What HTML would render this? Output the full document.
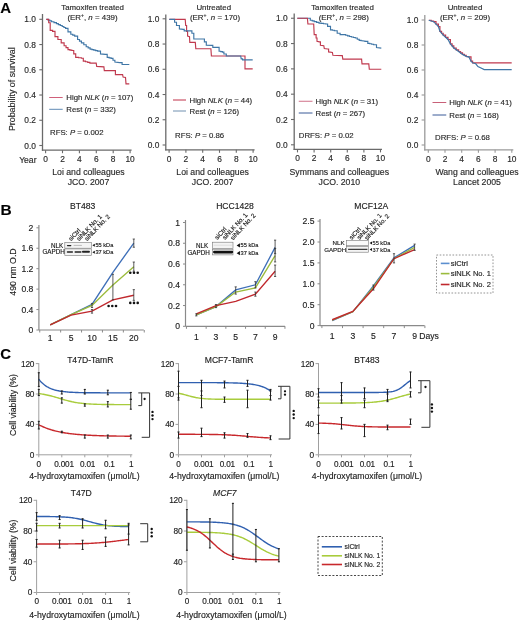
<!DOCTYPE html><html><head><meta charset="utf-8"><style>html,body{margin:0;padding:0;background:#fff;}svg{display:block;filter:blur(0.25px);} text{stroke:#2a2a2a;stroke-width:0.15px;}</style></head><body><svg width="520" height="620" viewBox="0 0 520 620" font-family='"Liberation Sans", sans-serif'>
<rect width="520" height="620" fill="#fff"/>
<text x="0.30" y="13.07" font-size="15" text-anchor="start" font-weight="bold" font-style="normal" fill="#000">A</text>
<text x="12.00" y="92.39" font-size="8.9" text-anchor="middle" font-weight="normal" font-style="normal" fill="#2a2a2a" transform="rotate(-90 12.00 89.20)">Probability of survival</text>
<line x1="42.50" y1="14.00" x2="42.50" y2="150.80" stroke="#6a6a6a" stroke-width="1.3"/>
<line x1="39.30" y1="145.50" x2="42.50" y2="145.50" stroke="#6a6a6a" stroke-width="1.1"/>
<text x="36.00" y="148.51" font-size="8.4" text-anchor="end" font-weight="normal" font-style="normal" fill="#2a2a2a">0.0</text>
<line x1="39.30" y1="120.26" x2="42.50" y2="120.26" stroke="#6a6a6a" stroke-width="1.1"/>
<text x="36.00" y="123.27" font-size="8.4" text-anchor="end" font-weight="normal" font-style="normal" fill="#2a2a2a">0.2</text>
<line x1="39.30" y1="95.02" x2="42.50" y2="95.02" stroke="#6a6a6a" stroke-width="1.1"/>
<text x="36.00" y="98.03" font-size="8.4" text-anchor="end" font-weight="normal" font-style="normal" fill="#2a2a2a">0.4</text>
<line x1="39.30" y1="69.78" x2="42.50" y2="69.78" stroke="#6a6a6a" stroke-width="1.1"/>
<text x="36.00" y="72.79" font-size="8.4" text-anchor="end" font-weight="normal" font-style="normal" fill="#2a2a2a">0.6</text>
<line x1="39.30" y1="44.54" x2="42.50" y2="44.54" stroke="#6a6a6a" stroke-width="1.1"/>
<text x="36.00" y="47.55" font-size="8.4" text-anchor="end" font-weight="normal" font-style="normal" fill="#2a2a2a">0.8</text>
<line x1="39.30" y1="19.30" x2="42.50" y2="19.30" stroke="#6a6a6a" stroke-width="1.1"/>
<text x="36.00" y="22.31" font-size="8.4" text-anchor="end" font-weight="normal" font-style="normal" fill="#2a2a2a">1.0</text>
<line x1="41.90" y1="150.20" x2="131.60" y2="150.20" stroke="#6a6a6a" stroke-width="1.3"/>
<line x1="45.60" y1="150.20" x2="45.60" y2="153.20" stroke="#6a6a6a" stroke-width="1.1"/>
<text x="45.60" y="162.21" font-size="8.4" text-anchor="middle" font-weight="normal" font-style="normal" fill="#2a2a2a">0</text>
<line x1="62.50" y1="150.20" x2="62.50" y2="153.20" stroke="#6a6a6a" stroke-width="1.1"/>
<text x="62.50" y="162.21" font-size="8.4" text-anchor="middle" font-weight="normal" font-style="normal" fill="#2a2a2a">2</text>
<line x1="79.40" y1="150.20" x2="79.40" y2="153.20" stroke="#6a6a6a" stroke-width="1.1"/>
<text x="79.40" y="162.21" font-size="8.4" text-anchor="middle" font-weight="normal" font-style="normal" fill="#2a2a2a">4</text>
<line x1="96.30" y1="150.20" x2="96.30" y2="153.20" stroke="#6a6a6a" stroke-width="1.1"/>
<text x="96.30" y="162.21" font-size="8.4" text-anchor="middle" font-weight="normal" font-style="normal" fill="#2a2a2a">6</text>
<line x1="113.20" y1="150.20" x2="113.20" y2="153.20" stroke="#6a6a6a" stroke-width="1.1"/>
<text x="113.20" y="162.21" font-size="8.4" text-anchor="middle" font-weight="normal" font-style="normal" fill="#2a2a2a">8</text>
<line x1="130.10" y1="150.20" x2="130.10" y2="153.20" stroke="#6a6a6a" stroke-width="1.1"/>
<text x="130.10" y="162.21" font-size="8.4" text-anchor="middle" font-weight="normal" font-style="normal" fill="#2a2a2a">10</text>
<text x="36.50" y="162.68" font-size="8.6" text-anchor="end" font-weight="normal" font-style="normal" fill="#2a2a2a">Year</text>
<text x="92.60" y="9.73" font-size="7.9" text-anchor="middle" font-weight="normal" font-style="normal" fill="#2a2a2a">Tamoxifen treated</text>
<text x="92.50" y="19.73" font-size="7.9" text-anchor="middle" fill="#2a2a2a">(ER<tspan font-size="5" dy="-3">+</tspan><tspan dy="3">, </tspan><tspan font-style="italic">n</tspan> = 439)</text>
<line x1="49.20" y1="97.50" x2="62.70" y2="97.50" stroke="#d0607a" stroke-width="1.0"/>
<line x1="49.20" y1="109.30" x2="62.70" y2="109.30" stroke="#5f8ab5" stroke-width="1.0"/>
<text x="66.30" y="100.29" font-size="7.8" fill="#2a2a2a">High <tspan font-style="italic">NLK</tspan> (<tspan font-style="italic">n</tspan> = 107)</text>
<text x="66.30" y="112.09" font-size="7.8" fill="#2a2a2a">Rest (<tspan font-style="italic">n</tspan> = 332)</text>
<text x="50.00" y="134.79" font-size="7.8" fill="#2a2a2a">RFS: <tspan font-style="italic">P</tspan> = 0.002</text>
<text x="88.50" y="174.81" font-size="8.7" text-anchor="middle" font-weight="normal" font-style="normal" fill="#2a2a2a">Loi and colleagues</text>
<text x="88.50" y="185.11" font-size="8.7" text-anchor="middle" font-weight="normal" font-style="normal" fill="#2a2a2a">JCO. 2007</text>
<polyline points="46.30,19.30 48.07,19.30 48.07,20.10 49.83,20.10 49.83,20.90 51.60,20.90 51.60,21.70 54.00,21.70 54.00,22.65 56.40,22.65 56.40,23.60 58.33,23.60 58.33,24.57 60.27,24.57 60.27,25.53 62.20,25.53 62.20,26.50 63.90,26.50 63.90,27.45 65.60,27.45 65.60,28.40 68.00,28.40 68.00,31.80 70.80,31.80 70.80,34.20 72.75,34.20 72.75,35.15 74.70,35.15 74.70,36.10 77.60,36.10 77.60,39.50 79.50,39.50 79.50,41.15 81.40,41.15 81.40,42.80 83.80,42.80 83.80,44.75 86.20,44.75 86.20,46.70 88.15,46.70 88.15,47.90 90.10,47.90 90.10,49.10 91.95,49.10 91.95,49.60 93.80,49.60 93.80,50.10 95.70,50.10 95.70,50.60 97.60,50.60 97.60,51.10 100.50,51.10 100.50,53.90 105.30,54.40 107.20,54.40 107.20,57.30 109.15,57.30 109.15,57.80 111.10,57.80 111.10,58.30 113.00,58.30 113.00,60.20 114.90,60.20 114.90,62.10 119.70,62.60 122.10,62.60 122.10,64.50 129.30,64.50" fill="none" stroke="#3f76a6" stroke-width="1.15" stroke-linejoin="miter" />
<polyline points="46.30,19.30 48.70,19.30 48.70,22.70 50.20,22.70 50.20,30.30 52.60,30.30 52.60,31.30 55.00,31.30 55.00,36.60 57.90,36.60 57.90,39.50 61.20,39.50 61.20,42.80 64.10,42.80 64.10,45.70 66.05,45.70 66.05,47.65 68.00,47.65 68.00,49.60 69.90,49.60 69.90,50.05 71.80,50.05 71.80,50.50 73.75,50.50 73.75,53.90 75.70,53.90 75.70,57.30 78.55,57.30 78.55,57.75 81.40,57.75 81.40,58.20 83.30,58.20 83.30,61.10 85.50,61.10 85.50,61.77 87.70,61.77 87.70,62.43 89.90,62.43 89.90,63.10 96.20,63.10 96.70,66.40 103.90,66.90 104.30,70.60 114.00,70.60 115.40,70.60 115.40,74.60 122.60,74.60 123.10,77.00 125.50,77.50 126.00,83.80 129.30,83.80" fill="none" stroke="#c0394e" stroke-width="1.15" stroke-linejoin="miter" />
<line x1="165.80" y1="14.50" x2="165.80" y2="150.40" stroke="#6a6a6a" stroke-width="1.3"/>
<line x1="162.60" y1="145.00" x2="165.80" y2="145.00" stroke="#6a6a6a" stroke-width="1.1"/>
<text x="159.30" y="148.01" font-size="8.4" text-anchor="end" font-weight="normal" font-style="normal" fill="#2a2a2a">0.0</text>
<line x1="162.60" y1="119.76" x2="165.80" y2="119.76" stroke="#6a6a6a" stroke-width="1.1"/>
<text x="159.30" y="122.77" font-size="8.4" text-anchor="end" font-weight="normal" font-style="normal" fill="#2a2a2a">0.2</text>
<line x1="162.60" y1="94.52" x2="165.80" y2="94.52" stroke="#6a6a6a" stroke-width="1.1"/>
<text x="159.30" y="97.53" font-size="8.4" text-anchor="end" font-weight="normal" font-style="normal" fill="#2a2a2a">0.4</text>
<line x1="162.60" y1="69.28" x2="165.80" y2="69.28" stroke="#6a6a6a" stroke-width="1.1"/>
<text x="159.30" y="72.29" font-size="8.4" text-anchor="end" font-weight="normal" font-style="normal" fill="#2a2a2a">0.6</text>
<line x1="162.60" y1="44.04" x2="165.80" y2="44.04" stroke="#6a6a6a" stroke-width="1.1"/>
<text x="159.30" y="47.05" font-size="8.4" text-anchor="end" font-weight="normal" font-style="normal" fill="#2a2a2a">0.8</text>
<line x1="162.60" y1="18.80" x2="165.80" y2="18.80" stroke="#6a6a6a" stroke-width="1.1"/>
<text x="159.30" y="21.81" font-size="8.4" text-anchor="end" font-weight="normal" font-style="normal" fill="#2a2a2a">1.0</text>
<line x1="165.20" y1="149.80" x2="254.60" y2="149.80" stroke="#6a6a6a" stroke-width="1.3"/>
<line x1="169.10" y1="149.80" x2="169.10" y2="152.80" stroke="#6a6a6a" stroke-width="1.1"/>
<text x="169.10" y="161.81" font-size="8.4" text-anchor="middle" font-weight="normal" font-style="normal" fill="#2a2a2a">0</text>
<line x1="185.90" y1="149.80" x2="185.90" y2="152.80" stroke="#6a6a6a" stroke-width="1.1"/>
<text x="185.90" y="161.81" font-size="8.4" text-anchor="middle" font-weight="normal" font-style="normal" fill="#2a2a2a">2</text>
<line x1="202.70" y1="149.80" x2="202.70" y2="152.80" stroke="#6a6a6a" stroke-width="1.1"/>
<text x="202.70" y="161.81" font-size="8.4" text-anchor="middle" font-weight="normal" font-style="normal" fill="#2a2a2a">4</text>
<line x1="219.50" y1="149.80" x2="219.50" y2="152.80" stroke="#6a6a6a" stroke-width="1.1"/>
<text x="219.50" y="161.81" font-size="8.4" text-anchor="middle" font-weight="normal" font-style="normal" fill="#2a2a2a">6</text>
<line x1="236.30" y1="149.80" x2="236.30" y2="152.80" stroke="#6a6a6a" stroke-width="1.1"/>
<text x="236.30" y="161.81" font-size="8.4" text-anchor="middle" font-weight="normal" font-style="normal" fill="#2a2a2a">8</text>
<line x1="253.10" y1="149.80" x2="253.10" y2="152.80" stroke="#6a6a6a" stroke-width="1.1"/>
<text x="253.10" y="161.81" font-size="8.4" text-anchor="middle" font-weight="normal" font-style="normal" fill="#2a2a2a">10</text>
<text x="213.75" y="10.13" font-size="7.9" text-anchor="middle" font-weight="normal" font-style="normal" fill="#2a2a2a">Untreated</text>
<text x="215.00" y="19.73" font-size="7.9" text-anchor="middle" fill="#2a2a2a">(ER<tspan font-size="5" dy="-3">+</tspan><tspan dy="3">, </tspan><tspan font-style="italic">n</tspan> = 170)</text>
<line x1="173.00" y1="100.00" x2="186.00" y2="100.00" stroke="#c03048" stroke-width="1.0"/>
<line x1="173.00" y1="111.00" x2="186.00" y2="111.00" stroke="#7090b0" stroke-width="1.0"/>
<text x="189.50" y="102.79" font-size="7.8" fill="#2a2a2a">High <tspan font-style="italic">NLK</tspan> (<tspan font-style="italic">n</tspan> = 44)</text>
<text x="189.50" y="113.79" font-size="7.8" fill="#2a2a2a">Rest (<tspan font-style="italic">n</tspan> = 126)</text>
<text x="175.00" y="138.29" font-size="7.8" fill="#2a2a2a">RFS: <tspan font-style="italic">P</tspan> = 0.86</text>
<text x="212.60" y="175.11" font-size="8.7" text-anchor="middle" font-weight="normal" font-style="normal" fill="#2a2a2a">Loi and colleagues</text>
<text x="212.60" y="185.11" font-size="8.7" text-anchor="middle" font-weight="normal" font-style="normal" fill="#2a2a2a">JCO. 2007</text>
<polyline points="169.30,19.30 185.20,19.30 185.70,25.50 186.60,25.50 186.60,31.30 187.60,31.30 187.60,36.10 189.50,36.60 189.80,42.40 195.30,42.40 195.80,48.60 210.90,48.75 211.40,56.00 245.00,56.00 245.00,68.90 252.70,68.90" fill="none" stroke="#c0394e" stroke-width="1.15" stroke-linejoin="miter" />
<polyline points="169.30,19.30 173.20,19.30 174.60,19.30 174.60,22.20 176.50,22.20 176.50,25.50 179.40,25.50 179.40,28.90 183.30,29.40 184.20,29.40 184.20,30.80 191.00,30.80 191.90,30.80 191.90,33.20 193.80,33.20 193.80,39.00 202.50,39.00 204.40,39.00 204.40,41.90 206.30,41.90 206.30,45.30 211.80,45.40 212.80,45.40 212.80,47.30 217.60,47.30 219.10,47.30 219.10,51.20 220.75,51.20 220.75,51.65 222.40,51.65 222.40,52.10 223.90,52.10 223.90,54.00 226.30,54.00 226.30,56.00 240.70,56.00 241.20,58.80 242.60,58.80 242.60,59.80 252.70,59.80" fill="none" stroke="#3f76a6" stroke-width="1.15" stroke-linejoin="miter" />
<line x1="294.20" y1="13.50" x2="294.20" y2="150.00" stroke="#6a6a6a" stroke-width="1.3"/>
<line x1="291.00" y1="144.80" x2="294.20" y2="144.80" stroke="#6a6a6a" stroke-width="1.1"/>
<text x="287.70" y="147.81" font-size="8.4" text-anchor="end" font-weight="normal" font-style="normal" fill="#2a2a2a">0.0</text>
<line x1="291.00" y1="119.49" x2="294.20" y2="119.49" stroke="#6a6a6a" stroke-width="1.1"/>
<text x="287.70" y="122.50" font-size="8.4" text-anchor="end" font-weight="normal" font-style="normal" fill="#2a2a2a">0.2</text>
<line x1="291.00" y1="94.18" x2="294.20" y2="94.18" stroke="#6a6a6a" stroke-width="1.1"/>
<text x="287.70" y="97.19" font-size="8.4" text-anchor="end" font-weight="normal" font-style="normal" fill="#2a2a2a">0.4</text>
<line x1="291.00" y1="68.87" x2="294.20" y2="68.87" stroke="#6a6a6a" stroke-width="1.1"/>
<text x="287.70" y="71.88" font-size="8.4" text-anchor="end" font-weight="normal" font-style="normal" fill="#2a2a2a">0.6</text>
<line x1="291.00" y1="43.56" x2="294.20" y2="43.56" stroke="#6a6a6a" stroke-width="1.1"/>
<text x="287.70" y="46.57" font-size="8.4" text-anchor="end" font-weight="normal" font-style="normal" fill="#2a2a2a">0.8</text>
<line x1="291.00" y1="18.25" x2="294.20" y2="18.25" stroke="#6a6a6a" stroke-width="1.1"/>
<text x="287.70" y="21.26" font-size="8.4" text-anchor="end" font-weight="normal" font-style="normal" fill="#2a2a2a">1.0</text>
<line x1="293.60" y1="149.40" x2="382.00" y2="149.40" stroke="#6a6a6a" stroke-width="1.3"/>
<line x1="297.50" y1="149.40" x2="297.50" y2="152.40" stroke="#6a6a6a" stroke-width="1.1"/>
<text x="297.50" y="161.41" font-size="8.4" text-anchor="middle" font-weight="normal" font-style="normal" fill="#2a2a2a">0</text>
<line x1="314.10" y1="149.40" x2="314.10" y2="152.40" stroke="#6a6a6a" stroke-width="1.1"/>
<text x="314.10" y="161.41" font-size="8.4" text-anchor="middle" font-weight="normal" font-style="normal" fill="#2a2a2a">2</text>
<line x1="330.70" y1="149.40" x2="330.70" y2="152.40" stroke="#6a6a6a" stroke-width="1.1"/>
<text x="330.70" y="161.41" font-size="8.4" text-anchor="middle" font-weight="normal" font-style="normal" fill="#2a2a2a">4</text>
<line x1="347.30" y1="149.40" x2="347.30" y2="152.40" stroke="#6a6a6a" stroke-width="1.1"/>
<text x="347.30" y="161.41" font-size="8.4" text-anchor="middle" font-weight="normal" font-style="normal" fill="#2a2a2a">6</text>
<line x1="363.90" y1="149.40" x2="363.90" y2="152.40" stroke="#6a6a6a" stroke-width="1.1"/>
<text x="363.90" y="161.41" font-size="8.4" text-anchor="middle" font-weight="normal" font-style="normal" fill="#2a2a2a">8</text>
<line x1="380.50" y1="149.40" x2="380.50" y2="152.40" stroke="#6a6a6a" stroke-width="1.1"/>
<text x="380.50" y="161.41" font-size="8.4" text-anchor="middle" font-weight="normal" font-style="normal" fill="#2a2a2a">10</text>
<text x="342.50" y="10.13" font-size="7.9" text-anchor="middle" font-weight="normal" font-style="normal" fill="#2a2a2a">Tamoxifen treated</text>
<text x="343.75" y="19.73" font-size="7.9" text-anchor="middle" fill="#2a2a2a">(ER<tspan font-size="5" dy="-3">+</tspan><tspan dy="3">, </tspan><tspan font-style="italic">n</tspan> = 298)</text>
<line x1="298.75" y1="101.25" x2="312.50" y2="101.25" stroke="#d07088" stroke-width="1.0"/>
<line x1="298.75" y1="113.00" x2="312.50" y2="113.00" stroke="#3a5a98" stroke-width="1.0"/>
<text x="315.50" y="104.04" font-size="7.8" fill="#2a2a2a">High <tspan font-style="italic">NLK</tspan> (<tspan font-style="italic">n</tspan> = 31)</text>
<text x="315.50" y="115.79" font-size="7.8" fill="#2a2a2a">Rest (<tspan font-style="italic">n</tspan> = 267)</text>
<text x="298.75" y="138.29" font-size="7.8" fill="#2a2a2a">DRFS: <tspan font-style="italic">P</tspan> = 0.02</text>
<text x="339.30" y="174.81" font-size="8.7" text-anchor="middle" font-weight="normal" font-style="normal" fill="#2a2a2a">Symmans and colleagues</text>
<text x="339.30" y="185.01" font-size="8.7" text-anchor="middle" font-weight="normal" font-style="normal" fill="#2a2a2a">JCO. 2010</text>
<polyline points="297.30,18.25 307.40,18.25 310.30,18.25 310.30,20.20 312.25,20.20 312.25,20.90 314.20,20.90 314.20,21.60 316.60,21.60 316.60,22.35 319.00,22.35 319.00,23.10 321.23,23.10 321.23,23.40 323.47,23.40 323.47,23.70 325.70,23.70 325.70,24.00 327.60,24.00 327.60,26.40 330.50,26.40 330.50,29.80 332.40,29.80 332.40,30.27 334.30,30.27 334.30,30.75 337.20,30.75 337.20,33.20 340.10,33.20 340.10,34.60 343.80,34.60 345.70,34.60 345.70,35.23 347.60,35.23 347.60,35.87 349.50,35.87 349.50,36.50 351.43,36.50 351.43,37.00 353.37,37.00 353.37,37.50 355.30,37.50 355.30,38.00 357.25,38.00 357.25,39.20 359.20,39.20 359.20,40.40 361.10,40.40 361.10,40.70 363.00,40.70 363.00,41.00 364.90,41.00 364.90,41.30 367.80,41.30 367.80,43.30 369.73,43.30 369.73,43.77 371.67,43.77 371.67,44.23 373.60,44.23 373.60,44.70 376.50,44.70 376.50,47.60 381.30,48.10" fill="none" stroke="#3f76a6" stroke-width="1.15" stroke-linejoin="miter" />
<polyline points="297.30,18.25 307.40,18.25 307.90,24.00 313.70,24.00 314.20,34.60 316.10,34.60 316.10,38.00 317.00,38.00 317.00,41.30 319.40,41.80 320.40,41.80 320.40,45.20 323.80,45.70 324.30,48.50 327.60,49.00 328.60,49.00 328.60,51.90 332.40,52.40 332.90,55.30 342.30,55.60 342.80,59.10 361.60,59.10 362.00,63.90 368.80,63.90 369.30,69.20 381.30,69.20" fill="none" stroke="#c0394e" stroke-width="1.15" stroke-linejoin="miter" />
<line x1="424.80" y1="15.00" x2="424.80" y2="150.40" stroke="#9a9a9a" stroke-width="1.3"/>
<line x1="421.60" y1="145.00" x2="424.80" y2="145.00" stroke="#9a9a9a" stroke-width="1.1"/>
<text x="418.30" y="148.01" font-size="8.4" text-anchor="end" font-weight="normal" font-style="normal" fill="#2a2a2a">0.0</text>
<line x1="421.60" y1="120.00" x2="424.80" y2="120.00" stroke="#9a9a9a" stroke-width="1.1"/>
<text x="418.30" y="123.01" font-size="8.4" text-anchor="end" font-weight="normal" font-style="normal" fill="#2a2a2a">0.2</text>
<line x1="421.60" y1="95.00" x2="424.80" y2="95.00" stroke="#9a9a9a" stroke-width="1.1"/>
<text x="418.30" y="98.01" font-size="8.4" text-anchor="end" font-weight="normal" font-style="normal" fill="#2a2a2a">0.4</text>
<line x1="421.60" y1="70.00" x2="424.80" y2="70.00" stroke="#9a9a9a" stroke-width="1.1"/>
<text x="418.30" y="73.01" font-size="8.4" text-anchor="end" font-weight="normal" font-style="normal" fill="#2a2a2a">0.6</text>
<line x1="421.60" y1="45.00" x2="424.80" y2="45.00" stroke="#9a9a9a" stroke-width="1.1"/>
<text x="418.30" y="48.01" font-size="8.4" text-anchor="end" font-weight="normal" font-style="normal" fill="#2a2a2a">0.8</text>
<line x1="421.60" y1="20.00" x2="424.80" y2="20.00" stroke="#9a9a9a" stroke-width="1.1"/>
<text x="418.30" y="23.01" font-size="8.4" text-anchor="end" font-weight="normal" font-style="normal" fill="#2a2a2a">1.0</text>
<line x1="424.20" y1="149.80" x2="513.30" y2="149.80" stroke="#9a9a9a" stroke-width="1.3"/>
<line x1="428.30" y1="149.80" x2="428.30" y2="152.80" stroke="#9a9a9a" stroke-width="1.1"/>
<text x="428.30" y="161.81" font-size="8.4" text-anchor="middle" font-weight="normal" font-style="normal" fill="#2a2a2a">0</text>
<line x1="445.00" y1="149.80" x2="445.00" y2="152.80" stroke="#9a9a9a" stroke-width="1.1"/>
<text x="445.00" y="161.81" font-size="8.4" text-anchor="middle" font-weight="normal" font-style="normal" fill="#2a2a2a">2</text>
<line x1="461.70" y1="149.80" x2="461.70" y2="152.80" stroke="#9a9a9a" stroke-width="1.1"/>
<text x="461.70" y="161.81" font-size="8.4" text-anchor="middle" font-weight="normal" font-style="normal" fill="#2a2a2a">4</text>
<line x1="478.40" y1="149.80" x2="478.40" y2="152.80" stroke="#9a9a9a" stroke-width="1.1"/>
<text x="478.40" y="161.81" font-size="8.4" text-anchor="middle" font-weight="normal" font-style="normal" fill="#2a2a2a">6</text>
<line x1="495.10" y1="149.80" x2="495.10" y2="152.80" stroke="#9a9a9a" stroke-width="1.1"/>
<text x="495.10" y="161.81" font-size="8.4" text-anchor="middle" font-weight="normal" font-style="normal" fill="#2a2a2a">8</text>
<line x1="511.80" y1="149.80" x2="511.80" y2="152.80" stroke="#9a9a9a" stroke-width="1.1"/>
<text x="511.80" y="161.81" font-size="8.4" text-anchor="middle" font-weight="normal" font-style="normal" fill="#2a2a2a">10</text>
<text x="465.00" y="10.13" font-size="7.9" text-anchor="middle" font-weight="normal" font-style="normal" fill="#2a2a2a">Untreated</text>
<text x="465.00" y="19.73" font-size="7.9" text-anchor="middle" fill="#2a2a2a">(ER<tspan font-size="5" dy="-3">+</tspan><tspan dy="3">, </tspan><tspan font-style="italic">n</tspan> = 209)</text>
<line x1="432.50" y1="102.50" x2="446.25" y2="102.50" stroke="#c86078" stroke-width="1.0"/>
<line x1="432.50" y1="115.00" x2="446.25" y2="115.00" stroke="#3a5a98" stroke-width="1.0"/>
<text x="449.25" y="105.29" font-size="7.8" fill="#2a2a2a">High <tspan font-style="italic">NLK</tspan> (<tspan font-style="italic">n</tspan> = 41)</text>
<text x="449.25" y="117.79" font-size="7.8" fill="#2a2a2a">Rest (<tspan font-style="italic">n</tspan> = 168)</text>
<text x="435.00" y="139.79" font-size="7.8" fill="#2a2a2a">DRFS: <tspan font-style="italic">P</tspan> = 0.68</text>
<text x="477.00" y="174.71" font-size="8.7" text-anchor="middle" font-weight="normal" font-style="normal" fill="#2a2a2a">Wang and colleagues</text>
<text x="477.00" y="184.61" font-size="8.7" text-anchor="middle" font-weight="normal" font-style="normal" fill="#2a2a2a">Lancet 2005</text>
<polyline points="428.80,20.25 431.20,20.25 431.20,20.98 433.60,20.98 433.60,21.70 436.00,21.70 436.00,24.10 438.40,24.10 438.40,26.50 439.90,26.50 439.90,31.30 441.55,31.30 441.55,33.25 443.20,33.25 443.20,35.20 445.60,35.20 445.60,37.35 448.00,37.35 448.00,39.50 450.40,39.50 450.40,43.80 452.10,43.80 452.10,45.95 453.80,45.95 453.80,48.10 456.20,48.10 456.20,49.80 458.60,49.80 458.60,51.50 460.55,51.50 460.55,52.95 462.50,52.95 462.50,54.40 464.35,54.40 464.35,55.40 466.20,55.40 466.20,56.40 468.90,56.90 471.00,56.90 471.00,61.20 472.60,61.20 472.60,62.80 511.70,62.80" fill="none" stroke="#c0394e" stroke-width="1.2" stroke-linejoin="miter" />
<polyline points="428.80,20.25 433.60,21.70 438.40,26.50 439.90,31.30 443.20,35.20 448.00,39.50 450.40,43.80 453.80,48.10 458.60,51.50 462.50,54.40 466.20,56.40 468.90,56.90 471.00,61.20 472.60,62.80 475.80,63.80 477.90,66.50 481.00,68.00 484.20,69.60 511.70,69.60" fill="none" stroke="#3f76a6" stroke-width="1.2" stroke-linejoin="miter" />
<text x="0.60" y="215.05" font-size="15.5" text-anchor="start" font-weight="bold" font-style="normal" fill="#000">B</text>
<text x="13.00" y="275.15" font-size="8.8" text-anchor="middle" font-weight="normal" font-style="normal" fill="#1a1a1a" transform="rotate(-90 13.00 272.00)">490 nm O.D</text>
<line x1="38.90" y1="225.00" x2="38.90" y2="330.00" stroke="#8a8a8a" stroke-width="1.2"/>
<line x1="38.90" y1="330.00" x2="143.80" y2="330.00" stroke="#8a8a8a" stroke-width="1.2"/>
<line x1="36.40" y1="330.00" x2="38.90" y2="330.00" stroke="#8a8a8a" stroke-width="1"/>
<text x="33.40" y="333.08" font-size="8.6" text-anchor="end" font-weight="normal" font-style="normal" fill="#1a1a1a">0</text>
<line x1="36.40" y1="309.56" x2="38.90" y2="309.56" stroke="#8a8a8a" stroke-width="1"/>
<text x="33.40" y="312.64" font-size="8.6" text-anchor="end" font-weight="normal" font-style="normal" fill="#1a1a1a">0.4</text>
<line x1="36.40" y1="289.12" x2="38.90" y2="289.12" stroke="#8a8a8a" stroke-width="1"/>
<text x="33.40" y="292.20" font-size="8.6" text-anchor="end" font-weight="normal" font-style="normal" fill="#1a1a1a">0.8</text>
<line x1="36.40" y1="268.68" x2="38.90" y2="268.68" stroke="#8a8a8a" stroke-width="1"/>
<text x="33.40" y="271.76" font-size="8.6" text-anchor="end" font-weight="normal" font-style="normal" fill="#1a1a1a">1.2</text>
<line x1="36.40" y1="248.24" x2="38.90" y2="248.24" stroke="#8a8a8a" stroke-width="1"/>
<text x="33.40" y="251.32" font-size="8.6" text-anchor="end" font-weight="normal" font-style="normal" fill="#1a1a1a">1.6</text>
<line x1="36.40" y1="227.80" x2="38.90" y2="227.80" stroke="#8a8a8a" stroke-width="1"/>
<text x="33.40" y="230.88" font-size="8.6" text-anchor="end" font-weight="normal" font-style="normal" fill="#1a1a1a">2</text>
<line x1="39.75" y1="330.00" x2="39.75" y2="332.50" stroke="#8a8a8a" stroke-width="1"/>
<line x1="60.65" y1="330.00" x2="60.65" y2="332.50" stroke="#8a8a8a" stroke-width="1"/>
<line x1="81.55" y1="330.00" x2="81.55" y2="332.50" stroke="#8a8a8a" stroke-width="1"/>
<line x1="102.45" y1="330.00" x2="102.45" y2="332.50" stroke="#8a8a8a" stroke-width="1"/>
<line x1="123.35" y1="330.00" x2="123.35" y2="332.50" stroke="#8a8a8a" stroke-width="1"/>
<line x1="144.25" y1="330.00" x2="144.25" y2="332.50" stroke="#8a8a8a" stroke-width="1"/>
<text x="50.20" y="341.28" font-size="8.6" text-anchor="middle" font-weight="normal" font-style="normal" fill="#1a1a1a">1</text>
<text x="71.10" y="341.28" font-size="8.6" text-anchor="middle" font-weight="normal" font-style="normal" fill="#1a1a1a">5</text>
<text x="92.00" y="341.28" font-size="8.6" text-anchor="middle" font-weight="normal" font-style="normal" fill="#1a1a1a">10</text>
<text x="112.90" y="341.28" font-size="8.6" text-anchor="middle" font-weight="normal" font-style="normal" fill="#1a1a1a">15</text>
<text x="133.80" y="341.28" font-size="8.6" text-anchor="middle" font-weight="normal" font-style="normal" fill="#1a1a1a">20</text>
<text x="82.70" y="208.88" font-size="8.6" text-anchor="middle" font-weight="normal" font-style="normal" fill="#1a1a1a">BT483</text>
<polyline points="50.20,324.89 71.10,314.67 92.00,304.45 112.90,272.26 133.80,243.13" fill="none" stroke="#3e6fb8" stroke-width="1.35" stroke-linejoin="miter" />
<polyline points="50.20,324.89 71.10,314.67 92.00,305.47 112.90,285.03 133.80,266.64" fill="none" stroke="#9bbb3c" stroke-width="1.35" stroke-linejoin="miter" />
<polyline points="50.20,324.89 71.10,315.18 92.00,311.09 112.90,299.85 133.80,295.25" fill="none" stroke="#c0282d" stroke-width="1.35" stroke-linejoin="miter" />
<line x1="133.80" y1="247.22" x2="133.80" y2="239.04" stroke="#333" stroke-width="0.8"/>
<line x1="132.70" y1="247.22" x2="134.90" y2="247.22" stroke="#333" stroke-width="0.8"/>
<line x1="132.70" y1="239.04" x2="134.90" y2="239.04" stroke="#333" stroke-width="0.8"/>
<line x1="112.90" y1="299.85" x2="112.90" y2="274.30" stroke="#333" stroke-width="0.8"/>
<line x1="111.80" y1="299.85" x2="114.00" y2="299.85" stroke="#333" stroke-width="0.8"/>
<line x1="111.80" y1="274.30" x2="114.00" y2="274.30" stroke="#333" stroke-width="0.8"/>
<line x1="133.80" y1="271.24" x2="133.80" y2="262.04" stroke="#333" stroke-width="0.8"/>
<line x1="132.70" y1="271.24" x2="134.90" y2="271.24" stroke="#333" stroke-width="0.8"/>
<line x1="132.70" y1="262.04" x2="134.90" y2="262.04" stroke="#333" stroke-width="0.8"/>
<line x1="133.80" y1="300.36" x2="133.80" y2="289.63" stroke="#333" stroke-width="0.8"/>
<line x1="132.70" y1="300.36" x2="134.90" y2="300.36" stroke="#333" stroke-width="0.8"/>
<line x1="132.70" y1="289.63" x2="134.90" y2="289.63" stroke="#333" stroke-width="0.8"/>
<line x1="92.00" y1="307.52" x2="92.00" y2="303.43" stroke="#333" stroke-width="0.8"/>
<line x1="90.90" y1="307.52" x2="93.10" y2="307.52" stroke="#333" stroke-width="0.8"/>
<line x1="90.90" y1="303.43" x2="93.10" y2="303.43" stroke="#333" stroke-width="0.8"/>
<line x1="92.00" y1="313.14" x2="92.00" y2="309.56" stroke="#333" stroke-width="0.8"/>
<line x1="90.90" y1="313.14" x2="93.10" y2="313.14" stroke="#333" stroke-width="0.8"/>
<line x1="90.90" y1="309.56" x2="93.10" y2="309.56" stroke="#333" stroke-width="0.8"/>
<line x1="185.50" y1="220.00" x2="185.50" y2="326.30" stroke="#8a8a8a" stroke-width="1.2"/>
<line x1="185.50" y1="326.30" x2="285.10" y2="326.30" stroke="#8a8a8a" stroke-width="1.2"/>
<line x1="183.00" y1="326.30" x2="185.50" y2="326.30" stroke="#8a8a8a" stroke-width="1"/>
<text x="180.00" y="329.38" font-size="8.6" text-anchor="end" font-weight="normal" font-style="normal" fill="#1a1a1a">0</text>
<line x1="183.00" y1="305.54" x2="185.50" y2="305.54" stroke="#8a8a8a" stroke-width="1"/>
<text x="180.00" y="308.62" font-size="8.6" text-anchor="end" font-weight="normal" font-style="normal" fill="#1a1a1a">0.2</text>
<line x1="183.00" y1="284.78" x2="185.50" y2="284.78" stroke="#8a8a8a" stroke-width="1"/>
<text x="180.00" y="287.86" font-size="8.6" text-anchor="end" font-weight="normal" font-style="normal" fill="#1a1a1a">0.4</text>
<line x1="183.00" y1="264.02" x2="185.50" y2="264.02" stroke="#8a8a8a" stroke-width="1"/>
<text x="180.00" y="267.10" font-size="8.6" text-anchor="end" font-weight="normal" font-style="normal" fill="#1a1a1a">0.6</text>
<line x1="183.00" y1="243.26" x2="185.50" y2="243.26" stroke="#8a8a8a" stroke-width="1"/>
<text x="180.00" y="246.34" font-size="8.6" text-anchor="end" font-weight="normal" font-style="normal" fill="#1a1a1a">0.8</text>
<line x1="183.00" y1="222.50" x2="185.50" y2="222.50" stroke="#8a8a8a" stroke-width="1"/>
<text x="180.00" y="225.58" font-size="8.6" text-anchor="end" font-weight="normal" font-style="normal" fill="#1a1a1a">1</text>
<line x1="186.45" y1="326.30" x2="186.45" y2="328.80" stroke="#8a8a8a" stroke-width="1"/>
<line x1="206.15" y1="326.30" x2="206.15" y2="328.80" stroke="#8a8a8a" stroke-width="1"/>
<line x1="225.85" y1="326.30" x2="225.85" y2="328.80" stroke="#8a8a8a" stroke-width="1"/>
<line x1="245.55" y1="326.30" x2="245.55" y2="328.80" stroke="#8a8a8a" stroke-width="1"/>
<line x1="265.25" y1="326.30" x2="265.25" y2="328.80" stroke="#8a8a8a" stroke-width="1"/>
<line x1="284.95" y1="326.30" x2="284.95" y2="328.80" stroke="#8a8a8a" stroke-width="1"/>
<text x="196.30" y="339.68" font-size="8.6" text-anchor="middle" font-weight="normal" font-style="normal" fill="#1a1a1a">1</text>
<text x="216.00" y="339.68" font-size="8.6" text-anchor="middle" font-weight="normal" font-style="normal" fill="#1a1a1a">3</text>
<text x="235.70" y="339.68" font-size="8.6" text-anchor="middle" font-weight="normal" font-style="normal" fill="#1a1a1a">5</text>
<text x="255.40" y="339.68" font-size="8.6" text-anchor="middle" font-weight="normal" font-style="normal" fill="#1a1a1a">7</text>
<text x="275.10" y="339.68" font-size="8.6" text-anchor="middle" font-weight="normal" font-style="normal" fill="#1a1a1a">9</text>
<text x="235.00" y="209.38" font-size="8.6" text-anchor="middle" font-weight="normal" font-style="normal" fill="#1a1a1a">HCC1428</text>
<polyline points="196.30,314.88 216.00,306.58 235.70,289.97 255.40,284.78 275.10,247.41" fill="none" stroke="#3e6fb8" stroke-width="1.35" stroke-linejoin="miter" />
<polyline points="196.30,314.88 216.00,306.58 235.70,292.05 255.40,287.89 275.10,255.72" fill="none" stroke="#9bbb3c" stroke-width="1.35" stroke-linejoin="miter" />
<polyline points="196.30,313.84 216.00,305.54 235.70,301.39 255.40,294.12 275.10,271.29" fill="none" stroke="#c0282d" stroke-width="1.35" stroke-linejoin="miter" />
<line x1="275.10" y1="253.64" x2="275.10" y2="240.15" stroke="#333" stroke-width="0.8"/>
<line x1="274.00" y1="253.64" x2="276.20" y2="253.64" stroke="#333" stroke-width="0.8"/>
<line x1="274.00" y1="240.15" x2="276.20" y2="240.15" stroke="#333" stroke-width="0.8"/>
<line x1="275.10" y1="261.94" x2="275.10" y2="248.45" stroke="#333" stroke-width="0.8"/>
<line x1="274.00" y1="261.94" x2="276.20" y2="261.94" stroke="#333" stroke-width="0.8"/>
<line x1="274.00" y1="248.45" x2="276.20" y2="248.45" stroke="#333" stroke-width="0.8"/>
<line x1="275.10" y1="276.48" x2="275.10" y2="265.06" stroke="#333" stroke-width="0.8"/>
<line x1="274.00" y1="276.48" x2="276.20" y2="276.48" stroke="#333" stroke-width="0.8"/>
<line x1="274.00" y1="265.06" x2="276.20" y2="265.06" stroke="#333" stroke-width="0.8"/>
<line x1="235.70" y1="294.12" x2="235.70" y2="286.86" stroke="#333" stroke-width="0.8"/>
<line x1="234.60" y1="294.12" x2="236.80" y2="294.12" stroke="#333" stroke-width="0.8"/>
<line x1="234.60" y1="286.86" x2="236.80" y2="286.86" stroke="#333" stroke-width="0.8"/>
<line x1="255.40" y1="287.89" x2="255.40" y2="281.67" stroke="#333" stroke-width="0.8"/>
<line x1="254.30" y1="287.89" x2="256.50" y2="287.89" stroke="#333" stroke-width="0.8"/>
<line x1="254.30" y1="281.67" x2="256.50" y2="281.67" stroke="#333" stroke-width="0.8"/>
<line x1="255.40" y1="296.20" x2="255.40" y2="292.05" stroke="#333" stroke-width="0.8"/>
<line x1="254.30" y1="296.20" x2="256.50" y2="296.20" stroke="#333" stroke-width="0.8"/>
<line x1="254.30" y1="292.05" x2="256.50" y2="292.05" stroke="#333" stroke-width="0.8"/>
<line x1="196.30" y1="315.92" x2="196.30" y2="313.84" stroke="#333" stroke-width="0.8"/>
<line x1="195.20" y1="315.92" x2="197.40" y2="315.92" stroke="#333" stroke-width="0.8"/>
<line x1="195.20" y1="313.84" x2="197.40" y2="313.84" stroke="#333" stroke-width="0.8"/>
<line x1="216.00" y1="307.62" x2="216.00" y2="304.50" stroke="#333" stroke-width="0.8"/>
<line x1="214.90" y1="307.62" x2="217.10" y2="307.62" stroke="#333" stroke-width="0.8"/>
<line x1="214.90" y1="304.50" x2="217.10" y2="304.50" stroke="#333" stroke-width="0.8"/>
<line x1="320.00" y1="219.00" x2="320.00" y2="325.60" stroke="#8a8a8a" stroke-width="1.2"/>
<line x1="320.00" y1="325.60" x2="424.60" y2="325.60" stroke="#8a8a8a" stroke-width="1.2"/>
<line x1="317.50" y1="325.60" x2="320.00" y2="325.60" stroke="#8a8a8a" stroke-width="1"/>
<text x="314.50" y="328.68" font-size="8.6" text-anchor="end" font-weight="normal" font-style="normal" fill="#1a1a1a">0</text>
<line x1="317.50" y1="304.70" x2="320.00" y2="304.70" stroke="#8a8a8a" stroke-width="1"/>
<text x="314.50" y="307.78" font-size="8.6" text-anchor="end" font-weight="normal" font-style="normal" fill="#1a1a1a">0.5</text>
<line x1="317.50" y1="283.80" x2="320.00" y2="283.80" stroke="#8a8a8a" stroke-width="1"/>
<text x="314.50" y="286.88" font-size="8.6" text-anchor="end" font-weight="normal" font-style="normal" fill="#1a1a1a">1.0</text>
<line x1="317.50" y1="262.90" x2="320.00" y2="262.90" stroke="#8a8a8a" stroke-width="1"/>
<text x="314.50" y="265.98" font-size="8.6" text-anchor="end" font-weight="normal" font-style="normal" fill="#1a1a1a">1.5</text>
<line x1="317.50" y1="242.00" x2="320.00" y2="242.00" stroke="#8a8a8a" stroke-width="1"/>
<text x="314.50" y="245.08" font-size="8.6" text-anchor="end" font-weight="normal" font-style="normal" fill="#1a1a1a">2.0</text>
<line x1="317.50" y1="221.10" x2="320.00" y2="221.10" stroke="#8a8a8a" stroke-width="1"/>
<text x="314.50" y="224.18" font-size="8.6" text-anchor="end" font-weight="normal" font-style="normal" fill="#1a1a1a">2.5</text>
<line x1="321.90" y1="325.60" x2="321.90" y2="328.10" stroke="#8a8a8a" stroke-width="1"/>
<line x1="342.50" y1="325.60" x2="342.50" y2="328.10" stroke="#8a8a8a" stroke-width="1"/>
<line x1="363.10" y1="325.60" x2="363.10" y2="328.10" stroke="#8a8a8a" stroke-width="1"/>
<line x1="383.70" y1="325.60" x2="383.70" y2="328.10" stroke="#8a8a8a" stroke-width="1"/>
<line x1="404.30" y1="325.60" x2="404.30" y2="328.10" stroke="#8a8a8a" stroke-width="1"/>
<line x1="424.90" y1="325.60" x2="424.90" y2="328.10" stroke="#8a8a8a" stroke-width="1"/>
<text x="332.20" y="338.68" font-size="8.6" text-anchor="middle" font-weight="normal" font-style="normal" fill="#1a1a1a">1</text>
<text x="352.80" y="338.68" font-size="8.6" text-anchor="middle" font-weight="normal" font-style="normal" fill="#1a1a1a">3</text>
<text x="373.40" y="338.68" font-size="8.6" text-anchor="middle" font-weight="normal" font-style="normal" fill="#1a1a1a">5</text>
<text x="394.00" y="338.68" font-size="8.6" text-anchor="middle" font-weight="normal" font-style="normal" fill="#1a1a1a">7</text>
<text x="414.60" y="338.68" font-size="8.6" text-anchor="middle" font-weight="normal" font-style="normal" fill="#1a1a1a">9</text>
<text x="419.30" y="338.68" font-size="8.6" text-anchor="start" font-weight="normal" font-style="normal" fill="#1a1a1a">Days</text>
<text x="371.30" y="209.38" font-size="8.6" text-anchor="middle" font-weight="normal" font-style="normal" fill="#1a1a1a">MCF12A</text>
<polyline points="332.20,320.58 352.80,311.81 373.40,285.89 394.00,257.88 414.60,245.34" fill="none" stroke="#3e6fb8" stroke-width="1.35" stroke-linejoin="miter" />
<polyline points="332.20,320.17 352.80,311.81 373.40,287.14 394.00,258.72 414.60,247.43" fill="none" stroke="#9bbb3c" stroke-width="1.35" stroke-linejoin="miter" />
<polyline points="332.20,319.75 352.80,311.39 373.40,288.82 394.00,258.72 414.60,249.52" fill="none" stroke="#c0282d" stroke-width="1.35" stroke-linejoin="miter" />
<line x1="394.00" y1="262.90" x2="394.00" y2="253.70" stroke="#333" stroke-width="0.8"/>
<line x1="392.90" y1="262.90" x2="395.10" y2="262.90" stroke="#333" stroke-width="0.8"/>
<line x1="392.90" y1="253.70" x2="395.10" y2="253.70" stroke="#333" stroke-width="0.8"/>
<line x1="414.60" y1="250.36" x2="414.60" y2="244.09" stroke="#333" stroke-width="0.8"/>
<line x1="413.50" y1="250.36" x2="415.70" y2="250.36" stroke="#333" stroke-width="0.8"/>
<line x1="413.50" y1="244.09" x2="415.70" y2="244.09" stroke="#333" stroke-width="0.8"/>
<line x1="373.40" y1="290.07" x2="373.40" y2="285.05" stroke="#333" stroke-width="0.8"/>
<line x1="372.30" y1="290.07" x2="374.50" y2="290.07" stroke="#333" stroke-width="0.8"/>
<line x1="372.30" y1="285.05" x2="374.50" y2="285.05" stroke="#333" stroke-width="0.8"/>
<rect x="436.5" y="255" width="56.5" height="38" fill="none" stroke="#888" stroke-width="0.9" stroke-dasharray="1.6,1.6"/>
<line x1="440.80" y1="263.40" x2="449.50" y2="263.40" stroke="#5b8fcf" stroke-width="1.6"/>
<text x="450.80" y="266.08" font-size="7.5" text-anchor="start" font-weight="normal" font-style="normal" fill="#1a1a1a">siCtrl</text>
<line x1="440.80" y1="273.60" x2="449.50" y2="273.60" stroke="#9bbb3c" stroke-width="1.6"/>
<text x="450.80" y="276.29" font-size="7.5" text-anchor="start" font-weight="normal" font-style="normal" fill="#1a1a1a">siNLK No. 1</text>
<line x1="440.80" y1="284.50" x2="449.50" y2="284.50" stroke="#c0282d" stroke-width="1.6"/>
<text x="450.80" y="287.19" font-size="7.5" text-anchor="start" font-weight="normal" font-style="normal" fill="#1a1a1a">siNLK No. 2</text>
<text x="0.30" y="358.77" font-size="15" text-anchor="start" font-weight="bold" font-style="normal" fill="#000">C</text>
<text x="13.00" y="408.11" font-size="8.7" text-anchor="middle" font-weight="normal" font-style="normal" fill="#1a1a1a" transform="rotate(-90 13.00 405.00)">Cell viability (%)</text>
<text x="12.50" y="553.61" font-size="8.7" text-anchor="middle" font-weight="normal" font-style="normal" fill="#1a1a1a" transform="rotate(-90 12.50 550.50)">Cell viability (%)</text>
<line x1="38.80" y1="363.10" x2="38.80" y2="454.80" stroke="#a0a0a0" stroke-width="1.0"/>
<line x1="38.80" y1="454.80" x2="132.30" y2="454.80" stroke="#a0a0a0" stroke-width="1.0"/>
<line x1="35.80" y1="454.80" x2="38.80" y2="454.80" stroke="#a0a0a0" stroke-width="1"/>
<text x="34.20" y="457.77" font-size="8.3" text-anchor="end" font-weight="normal" font-style="normal" fill="#1a1a1a" letter-spacing="-0.25">0</text>
<line x1="35.80" y1="424.40" x2="38.80" y2="424.40" stroke="#a0a0a0" stroke-width="1"/>
<text x="34.20" y="427.37" font-size="8.3" text-anchor="end" font-weight="normal" font-style="normal" fill="#1a1a1a" letter-spacing="-0.25">40</text>
<line x1="35.80" y1="394.00" x2="38.80" y2="394.00" stroke="#a0a0a0" stroke-width="1"/>
<text x="34.20" y="396.97" font-size="8.3" text-anchor="end" font-weight="normal" font-style="normal" fill="#1a1a1a" letter-spacing="-0.25">80</text>
<line x1="35.80" y1="363.60" x2="38.80" y2="363.60" stroke="#a0a0a0" stroke-width="1"/>
<text x="34.20" y="366.57" font-size="8.3" text-anchor="end" font-weight="normal" font-style="normal" fill="#1a1a1a" letter-spacing="-0.25">120</text>
<line x1="38.80" y1="454.80" x2="38.80" y2="457.30" stroke="#a0a0a0" stroke-width="1"/>
<text x="38.80" y="466.54" font-size="8.2" text-anchor="middle" font-weight="normal" font-style="normal" fill="#1a1a1a" letter-spacing="-0.2">0</text>
<line x1="61.80" y1="454.80" x2="61.80" y2="457.30" stroke="#a0a0a0" stroke-width="1"/>
<text x="64.00" y="466.54" font-size="8.2" text-anchor="middle" font-weight="normal" font-style="normal" fill="#1a1a1a" letter-spacing="-0.2">0.001</text>
<line x1="84.80" y1="454.80" x2="84.80" y2="457.30" stroke="#a0a0a0" stroke-width="1"/>
<text x="87.60" y="466.54" font-size="8.2" text-anchor="middle" font-weight="normal" font-style="normal" fill="#1a1a1a" letter-spacing="-0.2">0.01</text>
<line x1="107.80" y1="454.80" x2="107.80" y2="457.30" stroke="#a0a0a0" stroke-width="1"/>
<text x="109.30" y="466.54" font-size="8.2" text-anchor="middle" font-weight="normal" font-style="normal" fill="#1a1a1a" letter-spacing="-0.2">0.1</text>
<line x1="130.80" y1="454.80" x2="130.80" y2="457.30" stroke="#a0a0a0" stroke-width="1"/>
<text x="131.10" y="466.54" font-size="8.2" text-anchor="middle" font-weight="normal" font-style="normal" fill="#1a1a1a" letter-spacing="-0.2">1</text>
<text x="84.40" y="478.71" font-size="8.7" text-anchor="middle" font-weight="normal" font-style="normal" fill="#1a1a1a">4-hydroxytamoxifen (μmol/L)</text>
<text x="90.30" y="363.08" font-size="8.6" text-anchor="middle" font-weight="normal" font-style="normal" fill="#1a1a1a">T47D-TamR</text>
<path d="M38.80,379.18 L39.95,380.62 L41.10,381.91 L42.25,383.06 L43.40,384.09 L44.55,385.01 L45.70,385.84 L46.85,386.58 L48.00,387.24 L49.15,387.83 L50.30,388.36 L51.45,388.83 L52.60,389.25 L53.75,389.63 L54.90,389.97 L56.05,390.28 L57.20,390.55 L58.35,390.79 L59.50,391.01 L60.65,391.20 L61.80,391.38 L62.95,391.53 L64.10,391.67 L65.25,391.80 L66.40,391.91 L67.55,392.01 L68.70,392.10 L69.85,392.18 L71.00,392.25 L72.15,392.31 L73.30,392.37 L74.45,392.42 L75.60,392.47 L76.75,392.51 L77.90,392.55 L79.05,392.58 L80.20,392.61 L81.35,392.64 L82.50,392.66 L83.65,392.68 L84.80,392.70 L85.95,392.72 L87.10,392.73 L88.25,392.74 L89.40,392.76 L90.55,392.77 L91.70,392.78 L92.85,392.79 L94.00,392.79 L95.15,392.80 L96.30,392.81 L97.45,392.81 L98.60,392.82 L99.75,392.82 L100.90,392.83 L102.05,392.83 L103.20,392.83 L104.35,392.84 L105.50,392.84 L106.65,392.84 L107.80,392.84 L108.95,392.84 L110.10,392.85 L111.25,392.85 L112.40,392.85 L113.55,392.85 L114.70,392.85 L115.85,392.85 L117.00,392.85 L118.15,392.85 L119.30,392.85 L120.45,392.85 L121.60,392.86 L122.75,392.86 L123.90,392.86 L125.05,392.86 L126.20,392.86 L127.35,392.86 L128.50,392.86 L129.65,392.86 L130.80,392.86" fill="none" stroke="#3060b0" stroke-width="1.4"/>
<path d="M38.80,393.59 L39.95,393.75 L41.10,393.91 L42.25,394.09 L43.40,394.29 L44.55,394.49 L45.70,394.72 L46.85,394.95 L48.00,395.21 L49.15,395.47 L50.30,395.75 L51.45,396.05 L52.60,396.35 L53.75,396.67 L54.90,397.00 L56.05,397.33 L57.20,397.68 L58.35,398.02 L59.50,398.37 L60.65,398.72 L61.80,399.06 L62.95,399.41 L64.10,399.74 L65.25,400.07 L66.40,400.39 L67.55,400.69 L68.70,400.99 L69.85,401.27 L71.00,401.53 L72.15,401.79 L73.30,402.02 L74.45,402.25 L75.60,402.45 L76.75,402.65 L77.90,402.83 L79.05,402.99 L80.20,403.15 L81.35,403.29 L82.50,403.41 L83.65,403.53 L84.80,403.64 L85.95,403.74 L87.10,403.83 L88.25,403.91 L89.40,403.98 L90.55,404.05 L91.70,404.11 L92.85,404.16 L94.00,404.21 L95.15,404.25 L96.30,404.29 L97.45,404.33 L98.60,404.36 L99.75,404.39 L100.90,404.41 L102.05,404.44 L103.20,404.46 L104.35,404.48 L105.50,404.49 L106.65,404.51 L107.80,404.52 L108.95,404.54 L110.10,404.55 L111.25,404.56 L112.40,404.56 L113.55,404.57 L114.70,404.58 L115.85,404.59 L117.00,404.59 L118.15,404.60 L119.30,404.60 L120.45,404.61 L121.60,404.61 L122.75,404.61 L123.90,404.62 L125.05,404.62 L126.20,404.62 L127.35,404.62 L128.50,404.62 L129.65,404.63 L130.80,404.63" fill="none" stroke="#a8cc3c" stroke-width="1.4"/>
<path d="M38.80,424.78 L39.95,425.38 L41.10,425.94 L42.25,426.48 L43.40,426.99 L44.55,427.47 L45.70,427.93 L46.85,428.36 L48.00,428.78 L49.15,429.17 L50.30,429.54 L51.45,429.89 L52.60,430.22 L53.75,430.54 L54.90,430.84 L56.05,431.13 L57.20,431.40 L58.35,431.66 L59.50,431.90 L60.65,432.13 L61.80,432.35 L62.95,432.56 L64.10,432.76 L65.25,432.94 L66.40,433.12 L67.55,433.29 L68.70,433.45 L69.85,433.60 L71.00,433.74 L72.15,433.88 L73.30,434.01 L74.45,434.13 L75.60,434.25 L76.75,434.36 L77.90,434.47 L79.05,434.57 L80.20,434.66 L81.35,434.75 L82.50,434.83 L83.65,434.92 L84.80,434.99 L85.95,435.06 L87.10,435.13 L88.25,435.20 L89.40,435.26 L90.55,435.32 L91.70,435.38 L92.85,435.43 L94.00,435.48 L95.15,435.53 L96.30,435.57 L97.45,435.61 L98.60,435.65 L99.75,435.69 L100.90,435.73 L102.05,435.76 L103.20,435.80 L104.35,435.83 L105.50,435.86 L106.65,435.89 L107.80,435.91 L108.95,435.94 L110.10,435.96 L111.25,435.99 L112.40,436.01 L113.55,436.03 L114.70,436.05 L115.85,436.07 L117.00,436.08 L118.15,436.10 L119.30,436.12 L120.45,436.13 L121.60,436.15 L122.75,436.16 L123.90,436.17 L125.05,436.18 L126.20,436.20 L127.35,436.21 L128.50,436.22 L129.65,436.23 L130.80,436.24" fill="none" stroke="#c8282c" stroke-width="1.4"/>
<line x1="38.80" y1="386.40" x2="38.80" y2="372.72" stroke="#222" stroke-width="1.0"/>
<line x1="37.80" y1="386.40" x2="39.80" y2="386.40" stroke="#222" stroke-width="1.1"/>
<line x1="37.80" y1="372.72" x2="39.80" y2="372.72" stroke="#222" stroke-width="1.1"/>
<line x1="38.80" y1="395.52" x2="38.80" y2="389.44" stroke="#222" stroke-width="1.0"/>
<line x1="37.80" y1="395.52" x2="39.80" y2="395.52" stroke="#222" stroke-width="1.1"/>
<line x1="37.80" y1="389.44" x2="39.80" y2="389.44" stroke="#222" stroke-width="1.1"/>
<line x1="38.80" y1="428.96" x2="38.80" y2="421.36" stroke="#222" stroke-width="1.0"/>
<line x1="37.80" y1="428.96" x2="39.80" y2="428.96" stroke="#222" stroke-width="1.1"/>
<line x1="37.80" y1="421.36" x2="39.80" y2="421.36" stroke="#222" stroke-width="1.1"/>
<line x1="61.80" y1="394.00" x2="61.80" y2="390.96" stroke="#222" stroke-width="1.0"/>
<line x1="60.80" y1="394.00" x2="62.80" y2="394.00" stroke="#222" stroke-width="1.1"/>
<line x1="60.80" y1="390.96" x2="62.80" y2="390.96" stroke="#222" stroke-width="1.1"/>
<line x1="61.80" y1="403.12" x2="61.80" y2="397.80" stroke="#222" stroke-width="1.0"/>
<line x1="60.80" y1="403.12" x2="62.80" y2="403.12" stroke="#222" stroke-width="1.1"/>
<line x1="60.80" y1="397.80" x2="62.80" y2="397.80" stroke="#222" stroke-width="1.1"/>
<line x1="61.80" y1="432.76" x2="61.80" y2="431.24" stroke="#222" stroke-width="1.0"/>
<line x1="60.80" y1="432.76" x2="62.80" y2="432.76" stroke="#222" stroke-width="1.1"/>
<line x1="60.80" y1="431.24" x2="62.80" y2="431.24" stroke="#222" stroke-width="1.1"/>
<line x1="84.80" y1="394.00" x2="84.80" y2="389.44" stroke="#222" stroke-width="1.0"/>
<line x1="83.80" y1="394.00" x2="85.80" y2="394.00" stroke="#222" stroke-width="1.1"/>
<line x1="83.80" y1="389.44" x2="85.80" y2="389.44" stroke="#222" stroke-width="1.1"/>
<line x1="84.80" y1="406.16" x2="84.80" y2="403.88" stroke="#222" stroke-width="1.0"/>
<line x1="83.80" y1="406.16" x2="85.80" y2="406.16" stroke="#222" stroke-width="1.1"/>
<line x1="83.80" y1="403.88" x2="85.80" y2="403.88" stroke="#222" stroke-width="1.1"/>
<line x1="84.80" y1="438.08" x2="84.80" y2="435.04" stroke="#222" stroke-width="1.0"/>
<line x1="83.80" y1="438.08" x2="85.80" y2="438.08" stroke="#222" stroke-width="1.1"/>
<line x1="83.80" y1="435.04" x2="85.80" y2="435.04" stroke="#222" stroke-width="1.1"/>
<line x1="107.80" y1="394.76" x2="107.80" y2="390.20" stroke="#222" stroke-width="1.0"/>
<line x1="106.80" y1="394.76" x2="108.80" y2="394.76" stroke="#222" stroke-width="1.1"/>
<line x1="106.80" y1="390.20" x2="108.80" y2="390.20" stroke="#222" stroke-width="1.1"/>
<line x1="107.80" y1="406.92" x2="107.80" y2="401.60" stroke="#222" stroke-width="1.0"/>
<line x1="106.80" y1="406.92" x2="108.80" y2="406.92" stroke="#222" stroke-width="1.1"/>
<line x1="106.80" y1="401.60" x2="108.80" y2="401.60" stroke="#222" stroke-width="1.1"/>
<line x1="107.80" y1="438.08" x2="107.80" y2="435.04" stroke="#222" stroke-width="1.0"/>
<line x1="106.80" y1="438.08" x2="108.80" y2="438.08" stroke="#222" stroke-width="1.1"/>
<line x1="106.80" y1="435.04" x2="108.80" y2="435.04" stroke="#222" stroke-width="1.1"/>
<line x1="130.80" y1="399.32" x2="130.80" y2="392.48" stroke="#222" stroke-width="1.0"/>
<line x1="129.80" y1="399.32" x2="131.80" y2="399.32" stroke="#222" stroke-width="1.1"/>
<line x1="129.80" y1="392.48" x2="131.80" y2="392.48" stroke="#222" stroke-width="1.1"/>
<line x1="130.80" y1="409.20" x2="130.80" y2="399.32" stroke="#222" stroke-width="1.0"/>
<line x1="129.80" y1="409.20" x2="131.80" y2="409.20" stroke="#222" stroke-width="1.1"/>
<line x1="129.80" y1="399.32" x2="131.80" y2="399.32" stroke="#222" stroke-width="1.1"/>
<line x1="130.80" y1="438.84" x2="130.80" y2="435.04" stroke="#222" stroke-width="1.0"/>
<line x1="129.80" y1="438.84" x2="131.80" y2="438.84" stroke="#222" stroke-width="1.1"/>
<line x1="129.80" y1="435.04" x2="131.80" y2="435.04" stroke="#222" stroke-width="1.1"/>
<line x1="178.50" y1="363.10" x2="178.50" y2="454.80" stroke="#a0a0a0" stroke-width="1.0"/>
<line x1="178.50" y1="454.80" x2="272.00" y2="454.80" stroke="#a0a0a0" stroke-width="1.0"/>
<line x1="175.50" y1="454.80" x2="178.50" y2="454.80" stroke="#a0a0a0" stroke-width="1"/>
<text x="173.90" y="457.77" font-size="8.3" text-anchor="end" font-weight="normal" font-style="normal" fill="#1a1a1a" letter-spacing="-0.25">0</text>
<line x1="175.50" y1="424.40" x2="178.50" y2="424.40" stroke="#a0a0a0" stroke-width="1"/>
<text x="173.90" y="427.37" font-size="8.3" text-anchor="end" font-weight="normal" font-style="normal" fill="#1a1a1a" letter-spacing="-0.25">40</text>
<line x1="175.50" y1="394.00" x2="178.50" y2="394.00" stroke="#a0a0a0" stroke-width="1"/>
<text x="173.90" y="396.97" font-size="8.3" text-anchor="end" font-weight="normal" font-style="normal" fill="#1a1a1a" letter-spacing="-0.25">80</text>
<line x1="175.50" y1="363.60" x2="178.50" y2="363.60" stroke="#a0a0a0" stroke-width="1"/>
<text x="173.90" y="366.57" font-size="8.3" text-anchor="end" font-weight="normal" font-style="normal" fill="#1a1a1a" letter-spacing="-0.25">120</text>
<line x1="178.50" y1="454.80" x2="178.50" y2="457.30" stroke="#a0a0a0" stroke-width="1"/>
<text x="178.50" y="466.54" font-size="8.2" text-anchor="middle" font-weight="normal" font-style="normal" fill="#1a1a1a" letter-spacing="-0.2">0</text>
<line x1="201.50" y1="454.80" x2="201.50" y2="457.30" stroke="#a0a0a0" stroke-width="1"/>
<text x="203.70" y="466.54" font-size="8.2" text-anchor="middle" font-weight="normal" font-style="normal" fill="#1a1a1a" letter-spacing="-0.2">0.001</text>
<line x1="224.50" y1="454.80" x2="224.50" y2="457.30" stroke="#a0a0a0" stroke-width="1"/>
<text x="227.30" y="466.54" font-size="8.2" text-anchor="middle" font-weight="normal" font-style="normal" fill="#1a1a1a" letter-spacing="-0.2">0.01</text>
<line x1="247.50" y1="454.80" x2="247.50" y2="457.30" stroke="#a0a0a0" stroke-width="1"/>
<text x="249.00" y="466.54" font-size="8.2" text-anchor="middle" font-weight="normal" font-style="normal" fill="#1a1a1a" letter-spacing="-0.2">0.1</text>
<line x1="270.50" y1="454.80" x2="270.50" y2="457.30" stroke="#a0a0a0" stroke-width="1"/>
<text x="270.80" y="466.54" font-size="8.2" text-anchor="middle" font-weight="normal" font-style="normal" fill="#1a1a1a" letter-spacing="-0.2">1</text>
<text x="224.30" y="478.71" font-size="8.7" text-anchor="middle" font-weight="normal" font-style="normal" fill="#1a1a1a">4-hydroxytamoxifen (μmol/L)</text>
<text x="229.10" y="363.08" font-size="8.6" text-anchor="middle" font-weight="normal" font-style="normal" fill="#1a1a1a">MCF7-TamR</text>
<path d="M178.50,382.60 L179.65,382.60 L180.80,382.60 L181.95,382.60 L183.10,382.60 L184.25,382.60 L185.40,382.60 L186.55,382.60 L187.70,382.60 L188.85,382.60 L190.00,382.60 L191.15,382.61 L192.30,382.61 L193.45,382.61 L194.60,382.61 L195.75,382.61 L196.90,382.61 L198.05,382.61 L199.20,382.61 L200.35,382.62 L201.50,382.62 L202.65,382.62 L203.80,382.62 L204.95,382.63 L206.10,382.63 L207.25,382.63 L208.40,382.63 L209.55,382.64 L210.70,382.64 L211.85,382.65 L213.00,382.65 L214.15,382.66 L215.30,382.67 L216.45,382.67 L217.60,382.68 L218.75,382.69 L219.90,382.70 L221.05,382.71 L222.20,382.72 L223.35,382.74 L224.50,382.75 L225.65,382.77 L226.80,382.78 L227.95,382.80 L229.10,382.83 L230.25,382.85 L231.40,382.88 L232.55,382.91 L233.70,382.94 L234.85,382.97 L236.00,383.01 L237.15,383.06 L238.30,383.11 L239.45,383.16 L240.60,383.22 L241.75,383.28 L242.90,383.36 L244.05,383.44 L245.20,383.52 L246.35,383.62 L247.50,383.73 L248.65,383.85 L249.80,383.98 L250.95,384.12 L252.10,384.29 L253.25,384.46 L254.40,384.66 L255.55,384.88 L256.70,385.12 L257.85,385.38 L259.00,385.67 L260.15,386.00 L261.30,386.35 L262.45,386.75 L263.60,387.19 L264.75,387.67 L265.90,388.20 L267.05,388.79 L268.20,389.44 L269.35,390.16 L270.50,390.96" fill="none" stroke="#3060b0" stroke-width="1.4"/>
<path d="M178.50,393.31 L179.65,393.52 L180.80,393.76 L181.95,394.02 L183.10,394.30 L184.25,394.59 L185.40,394.89 L186.55,395.20 L187.70,395.52 L188.85,395.84 L190.00,396.15 L191.15,396.45 L192.30,396.74 L193.45,397.02 L194.60,397.28 L195.75,397.52 L196.90,397.73 L198.05,397.93 L199.20,398.11 L200.35,398.27 L201.50,398.41 L202.65,398.54 L203.80,398.65 L204.95,398.74 L206.10,398.83 L207.25,398.90 L208.40,398.96 L209.55,399.01 L210.70,399.06 L211.85,399.10 L213.00,399.13 L214.15,399.16 L215.30,399.18 L216.45,399.20 L217.60,399.22 L218.75,399.24 L219.90,399.25 L221.05,399.26 L222.20,399.27 L223.35,399.28 L224.50,399.28 L225.65,399.29 L226.80,399.29 L227.95,399.30 L229.10,399.30 L230.25,399.30 L231.40,399.31 L232.55,399.31 L233.70,399.31 L234.85,399.31 L236.00,399.31 L237.15,399.31 L238.30,399.32 L239.45,399.32 L240.60,399.32 L241.75,399.32 L242.90,399.32 L244.05,399.32 L245.20,399.32 L246.35,399.32 L247.50,399.32 L248.65,399.32 L249.80,399.32 L250.95,399.32 L252.10,399.32 L253.25,399.32 L254.40,399.32 L255.55,399.32 L256.70,399.32 L257.85,399.32 L259.00,399.32 L260.15,399.32 L261.30,399.32 L262.45,399.32 L263.60,399.32 L264.75,399.32 L265.90,399.32 L267.05,399.32 L268.20,399.32 L269.35,399.32 L270.50,399.32" fill="none" stroke="#a8cc3c" stroke-width="1.4"/>
<path d="M178.50,434.29 L179.65,434.29 L180.80,434.29 L181.95,434.29 L183.10,434.30 L184.25,434.30 L185.40,434.30 L186.55,434.30 L187.70,434.30 L188.85,434.31 L190.00,434.31 L191.15,434.31 L192.30,434.31 L193.45,434.32 L194.60,434.32 L195.75,434.33 L196.90,434.33 L198.05,434.34 L199.20,434.34 L200.35,434.35 L201.50,434.36 L202.65,434.36 L203.80,434.37 L204.95,434.38 L206.10,434.39 L207.25,434.40 L208.40,434.41 L209.55,434.43 L210.70,434.44 L211.85,434.46 L213.00,434.48 L214.15,434.50 L215.30,434.52 L216.45,434.54 L217.60,434.57 L218.75,434.60 L219.90,434.63 L221.05,434.66 L222.20,434.70 L223.35,434.74 L224.50,434.78 L225.65,434.82 L226.80,434.87 L227.95,434.93 L229.10,434.98 L230.25,435.04 L231.40,435.11 L232.55,435.18 L233.70,435.25 L234.85,435.32 L236.00,435.40 L237.15,435.49 L238.30,435.58 L239.45,435.67 L240.60,435.76 L241.75,435.86 L242.90,435.96 L244.05,436.06 L245.20,436.16 L246.35,436.27 L247.50,436.37 L248.65,436.47 L249.80,436.58 L250.95,436.68 L252.10,436.78 L253.25,436.88 L254.40,436.98 L255.55,437.07 L256.70,437.16 L257.85,437.25 L259.00,437.34 L260.15,437.42 L261.30,437.49 L262.45,437.56 L263.60,437.63 L264.75,437.70 L265.90,437.76 L267.05,437.81 L268.20,437.87 L269.35,437.92 L270.50,437.96" fill="none" stroke="#c8282c" stroke-width="1.4"/>
<line x1="178.50" y1="400.08" x2="178.50" y2="371.20" stroke="#222" stroke-width="1.0"/>
<line x1="177.50" y1="400.08" x2="179.50" y2="400.08" stroke="#222" stroke-width="1.1"/>
<line x1="177.50" y1="371.20" x2="179.50" y2="371.20" stroke="#222" stroke-width="1.1"/>
<line x1="178.50" y1="397.80" x2="178.50" y2="386.40" stroke="#222" stroke-width="1.0"/>
<line x1="177.50" y1="397.80" x2="179.50" y2="397.80" stroke="#222" stroke-width="1.1"/>
<line x1="177.50" y1="386.40" x2="179.50" y2="386.40" stroke="#222" stroke-width="1.1"/>
<line x1="178.50" y1="438.08" x2="178.50" y2="432.00" stroke="#222" stroke-width="1.0"/>
<line x1="177.50" y1="438.08" x2="179.50" y2="438.08" stroke="#222" stroke-width="1.1"/>
<line x1="177.50" y1="432.00" x2="179.50" y2="432.00" stroke="#222" stroke-width="1.1"/>
<line x1="201.50" y1="407.68" x2="201.50" y2="380.32" stroke="#222" stroke-width="1.0"/>
<line x1="200.50" y1="407.68" x2="202.50" y2="407.68" stroke="#222" stroke-width="1.1"/>
<line x1="200.50" y1="380.32" x2="202.50" y2="380.32" stroke="#222" stroke-width="1.1"/>
<line x1="201.50" y1="395.52" x2="201.50" y2="390.96" stroke="#222" stroke-width="1.0"/>
<line x1="200.50" y1="395.52" x2="202.50" y2="395.52" stroke="#222" stroke-width="1.1"/>
<line x1="200.50" y1="390.96" x2="202.50" y2="390.96" stroke="#222" stroke-width="1.1"/>
<line x1="201.50" y1="436.56" x2="201.50" y2="428.20" stroke="#222" stroke-width="1.0"/>
<line x1="200.50" y1="436.56" x2="202.50" y2="436.56" stroke="#222" stroke-width="1.1"/>
<line x1="200.50" y1="428.20" x2="202.50" y2="428.20" stroke="#222" stroke-width="1.1"/>
<line x1="224.50" y1="387.92" x2="224.50" y2="381.08" stroke="#222" stroke-width="1.0"/>
<line x1="223.50" y1="387.92" x2="225.50" y2="387.92" stroke="#222" stroke-width="1.1"/>
<line x1="223.50" y1="381.08" x2="225.50" y2="381.08" stroke="#222" stroke-width="1.1"/>
<line x1="224.50" y1="402.36" x2="224.50" y2="397.04" stroke="#222" stroke-width="1.0"/>
<line x1="223.50" y1="402.36" x2="225.50" y2="402.36" stroke="#222" stroke-width="1.1"/>
<line x1="223.50" y1="397.04" x2="225.50" y2="397.04" stroke="#222" stroke-width="1.1"/>
<line x1="224.50" y1="438.08" x2="224.50" y2="432.76" stroke="#222" stroke-width="1.0"/>
<line x1="223.50" y1="438.08" x2="225.50" y2="438.08" stroke="#222" stroke-width="1.1"/>
<line x1="223.50" y1="432.76" x2="225.50" y2="432.76" stroke="#222" stroke-width="1.1"/>
<line x1="247.50" y1="386.40" x2="247.50" y2="380.32" stroke="#222" stroke-width="1.0"/>
<line x1="246.50" y1="386.40" x2="248.50" y2="386.40" stroke="#222" stroke-width="1.1"/>
<line x1="246.50" y1="380.32" x2="248.50" y2="380.32" stroke="#222" stroke-width="1.1"/>
<line x1="247.50" y1="407.68" x2="247.50" y2="390.20" stroke="#222" stroke-width="1.0"/>
<line x1="246.50" y1="407.68" x2="248.50" y2="407.68" stroke="#222" stroke-width="1.1"/>
<line x1="246.50" y1="390.20" x2="248.50" y2="390.20" stroke="#222" stroke-width="1.1"/>
<line x1="247.50" y1="437.32" x2="247.50" y2="433.52" stroke="#222" stroke-width="1.0"/>
<line x1="246.50" y1="437.32" x2="248.50" y2="437.32" stroke="#222" stroke-width="1.1"/>
<line x1="246.50" y1="433.52" x2="248.50" y2="433.52" stroke="#222" stroke-width="1.1"/>
<line x1="270.50" y1="395.52" x2="270.50" y2="389.44" stroke="#222" stroke-width="1.0"/>
<line x1="269.50" y1="395.52" x2="271.50" y2="395.52" stroke="#222" stroke-width="1.1"/>
<line x1="269.50" y1="389.44" x2="271.50" y2="389.44" stroke="#222" stroke-width="1.1"/>
<line x1="270.50" y1="400.08" x2="270.50" y2="390.96" stroke="#222" stroke-width="1.0"/>
<line x1="269.50" y1="400.08" x2="271.50" y2="400.08" stroke="#222" stroke-width="1.1"/>
<line x1="269.50" y1="390.96" x2="271.50" y2="390.96" stroke="#222" stroke-width="1.1"/>
<line x1="270.50" y1="439.60" x2="270.50" y2="435.80" stroke="#222" stroke-width="1.0"/>
<line x1="269.50" y1="439.60" x2="271.50" y2="439.60" stroke="#222" stroke-width="1.1"/>
<line x1="269.50" y1="435.80" x2="271.50" y2="435.80" stroke="#222" stroke-width="1.1"/>
<line x1="318.50" y1="363.10" x2="318.50" y2="454.80" stroke="#a0a0a0" stroke-width="1.0"/>
<line x1="318.50" y1="454.80" x2="412.00" y2="454.80" stroke="#a0a0a0" stroke-width="1.0"/>
<line x1="315.50" y1="454.80" x2="318.50" y2="454.80" stroke="#a0a0a0" stroke-width="1"/>
<text x="313.90" y="457.77" font-size="8.3" text-anchor="end" font-weight="normal" font-style="normal" fill="#1a1a1a" letter-spacing="-0.25">0</text>
<line x1="315.50" y1="424.40" x2="318.50" y2="424.40" stroke="#a0a0a0" stroke-width="1"/>
<text x="313.90" y="427.37" font-size="8.3" text-anchor="end" font-weight="normal" font-style="normal" fill="#1a1a1a" letter-spacing="-0.25">40</text>
<line x1="315.50" y1="394.00" x2="318.50" y2="394.00" stroke="#a0a0a0" stroke-width="1"/>
<text x="313.90" y="396.97" font-size="8.3" text-anchor="end" font-weight="normal" font-style="normal" fill="#1a1a1a" letter-spacing="-0.25">80</text>
<line x1="315.50" y1="363.60" x2="318.50" y2="363.60" stroke="#a0a0a0" stroke-width="1"/>
<text x="313.90" y="366.57" font-size="8.3" text-anchor="end" font-weight="normal" font-style="normal" fill="#1a1a1a" letter-spacing="-0.25">120</text>
<line x1="318.50" y1="454.80" x2="318.50" y2="457.30" stroke="#a0a0a0" stroke-width="1"/>
<text x="318.50" y="466.54" font-size="8.2" text-anchor="middle" font-weight="normal" font-style="normal" fill="#1a1a1a" letter-spacing="-0.2">0</text>
<line x1="341.50" y1="454.80" x2="341.50" y2="457.30" stroke="#a0a0a0" stroke-width="1"/>
<text x="343.70" y="466.54" font-size="8.2" text-anchor="middle" font-weight="normal" font-style="normal" fill="#1a1a1a" letter-spacing="-0.2">0.001</text>
<line x1="364.50" y1="454.80" x2="364.50" y2="457.30" stroke="#a0a0a0" stroke-width="1"/>
<text x="367.30" y="466.54" font-size="8.2" text-anchor="middle" font-weight="normal" font-style="normal" fill="#1a1a1a" letter-spacing="-0.2">0.01</text>
<line x1="387.50" y1="454.80" x2="387.50" y2="457.30" stroke="#a0a0a0" stroke-width="1"/>
<text x="389.00" y="466.54" font-size="8.2" text-anchor="middle" font-weight="normal" font-style="normal" fill="#1a1a1a" letter-spacing="-0.2">0.1</text>
<line x1="410.50" y1="454.80" x2="410.50" y2="457.30" stroke="#a0a0a0" stroke-width="1"/>
<text x="410.80" y="466.54" font-size="8.2" text-anchor="middle" font-weight="normal" font-style="normal" fill="#1a1a1a" letter-spacing="-0.2">1</text>
<text x="367.00" y="478.71" font-size="8.7" text-anchor="middle" font-weight="normal" font-style="normal" fill="#1a1a1a">4-hydroxytamoxifen (μmol/L)</text>
<text x="367.00" y="362.88" font-size="8.6" text-anchor="middle" font-weight="normal" font-style="normal" fill="#1a1a1a">BT483</text>
<path d="M318.50,392.48 L319.65,392.48 L320.80,392.48 L321.95,392.48 L323.10,392.48 L324.25,392.48 L325.40,392.48 L326.55,392.48 L327.70,392.48 L328.85,392.48 L330.00,392.48 L331.15,392.48 L332.30,392.48 L333.45,392.48 L334.60,392.48 L335.75,392.48 L336.90,392.48 L338.05,392.48 L339.20,392.48 L340.35,392.48 L341.50,392.48 L342.65,392.48 L343.80,392.48 L344.95,392.48 L346.10,392.48 L347.25,392.48 L348.40,392.48 L349.55,392.48 L350.70,392.48 L351.85,392.48 L353.00,392.48 L354.15,392.48 L355.30,392.48 L356.45,392.48 L357.60,392.48 L358.75,392.48 L359.90,392.48 L361.05,392.48 L362.20,392.48 L363.35,392.48 L364.50,392.48 L365.65,392.48 L366.80,392.48 L367.95,392.47 L369.10,392.47 L370.25,392.47 L371.40,392.47 L372.55,392.47 L373.70,392.46 L374.85,392.46 L376.00,392.45 L377.15,392.44 L378.30,392.43 L379.45,392.42 L380.60,392.40 L381.75,392.38 L382.90,392.35 L384.05,392.31 L385.20,392.27 L386.35,392.21 L387.50,392.13 L388.65,392.03 L389.80,391.91 L390.95,391.76 L392.10,391.57 L393.25,391.33 L394.40,391.03 L395.55,390.67 L396.70,390.23 L397.85,389.71 L399.00,389.09 L400.15,388.39 L401.30,387.60 L402.45,386.74 L403.60,385.83 L404.75,384.88 L405.90,383.93 L407.05,383.02 L408.20,382.16 L409.35,381.37 L410.50,380.67" fill="none" stroke="#3060b0" stroke-width="1.4"/>
<path d="M318.50,403.11 L319.65,403.11 L320.80,403.11 L321.95,403.11 L323.10,403.11 L324.25,403.11 L325.40,403.11 L326.55,403.11 L327.70,403.11 L328.85,403.11 L330.00,403.10 L331.15,403.10 L332.30,403.10 L333.45,403.10 L334.60,403.10 L335.75,403.09 L336.90,403.09 L338.05,403.09 L339.20,403.08 L340.35,403.08 L341.50,403.07 L342.65,403.07 L343.80,403.06 L344.95,403.05 L346.10,403.05 L347.25,403.04 L348.40,403.03 L349.55,403.02 L350.70,403.01 L351.85,402.99 L353.00,402.98 L354.15,402.96 L355.30,402.94 L356.45,402.92 L357.60,402.90 L358.75,402.88 L359.90,402.85 L361.05,402.82 L362.20,402.78 L363.35,402.74 L364.50,402.70 L365.65,402.65 L366.80,402.60 L367.95,402.54 L369.10,402.48 L370.25,402.41 L371.40,402.33 L372.55,402.24 L373.70,402.15 L374.85,402.05 L376.00,401.93 L377.15,401.81 L378.30,401.67 L379.45,401.52 L380.60,401.36 L381.75,401.19 L382.90,401.00 L384.05,400.80 L385.20,400.58 L386.35,400.35 L387.50,400.11 L388.65,399.85 L389.80,399.58 L390.95,399.29 L392.10,398.99 L393.25,398.69 L394.40,398.37 L395.55,398.04 L396.70,397.71 L397.85,397.38 L399.00,397.04 L400.15,396.70 L401.30,396.37 L402.45,396.04 L403.60,395.71 L404.75,395.39 L405.90,395.09 L407.05,394.79 L408.20,394.50 L409.35,394.23 L410.50,393.97" fill="none" stroke="#a8cc3c" stroke-width="1.4"/>
<path d="M318.50,423.08 L319.65,423.10 L320.80,423.13 L321.95,423.16 L323.10,423.20 L324.25,423.24 L325.40,423.28 L326.55,423.33 L327.70,423.38 L328.85,423.44 L330.00,423.50 L331.15,423.57 L332.30,423.64 L333.45,423.72 L334.60,423.81 L335.75,423.90 L336.90,424.00 L338.05,424.11 L339.20,424.22 L340.35,424.34 L341.50,424.46 L342.65,424.58 L343.80,424.71 L344.95,424.84 L346.10,424.97 L347.25,425.10 L348.40,425.23 L349.55,425.36 L350.70,425.48 L351.85,425.60 L353.00,425.72 L354.15,425.83 L355.30,425.94 L356.45,426.04 L357.60,426.13 L358.75,426.22 L359.90,426.30 L361.05,426.37 L362.20,426.44 L363.35,426.50 L364.50,426.56 L365.65,426.61 L366.80,426.66 L367.95,426.70 L369.10,426.74 L370.25,426.78 L371.40,426.81 L372.55,426.84 L373.70,426.86 L374.85,426.88 L376.00,426.90 L377.15,426.92 L378.30,426.94 L379.45,426.95 L380.60,426.96 L381.75,426.98 L382.90,426.98 L384.05,426.99 L385.20,427.00 L386.35,427.01 L387.50,427.01 L388.65,427.02 L389.80,427.02 L390.95,427.03 L392.10,427.03 L393.25,427.04 L394.40,427.04 L395.55,427.04 L396.70,427.04 L397.85,427.04 L399.00,427.05 L400.15,427.05 L401.30,427.05 L402.45,427.05 L403.60,427.05 L404.75,427.05 L405.90,427.05 L407.05,427.05 L408.20,427.06 L409.35,427.06 L410.50,427.06" fill="none" stroke="#c8282c" stroke-width="1.4"/>
<line x1="318.50" y1="397.04" x2="318.50" y2="388.68" stroke="#222" stroke-width="1.0"/>
<line x1="317.50" y1="397.04" x2="319.50" y2="397.04" stroke="#222" stroke-width="1.1"/>
<line x1="317.50" y1="388.68" x2="319.50" y2="388.68" stroke="#222" stroke-width="1.1"/>
<line x1="318.50" y1="407.68" x2="318.50" y2="400.08" stroke="#222" stroke-width="1.0"/>
<line x1="317.50" y1="407.68" x2="319.50" y2="407.68" stroke="#222" stroke-width="1.1"/>
<line x1="317.50" y1="400.08" x2="319.50" y2="400.08" stroke="#222" stroke-width="1.1"/>
<line x1="318.50" y1="433.52" x2="318.50" y2="415.28" stroke="#222" stroke-width="1.0"/>
<line x1="317.50" y1="433.52" x2="319.50" y2="433.52" stroke="#222" stroke-width="1.1"/>
<line x1="317.50" y1="415.28" x2="319.50" y2="415.28" stroke="#222" stroke-width="1.1"/>
<line x1="341.50" y1="400.08" x2="341.50" y2="382.60" stroke="#222" stroke-width="1.0"/>
<line x1="340.50" y1="400.08" x2="342.50" y2="400.08" stroke="#222" stroke-width="1.1"/>
<line x1="340.50" y1="382.60" x2="342.50" y2="382.60" stroke="#222" stroke-width="1.1"/>
<line x1="341.50" y1="403.12" x2="341.50" y2="395.52" stroke="#222" stroke-width="1.0"/>
<line x1="340.50" y1="403.12" x2="342.50" y2="403.12" stroke="#222" stroke-width="1.1"/>
<line x1="340.50" y1="395.52" x2="342.50" y2="395.52" stroke="#222" stroke-width="1.1"/>
<line x1="341.50" y1="428.96" x2="341.50" y2="417.56" stroke="#222" stroke-width="1.0"/>
<line x1="340.50" y1="428.96" x2="342.50" y2="428.96" stroke="#222" stroke-width="1.1"/>
<line x1="340.50" y1="417.56" x2="342.50" y2="417.56" stroke="#222" stroke-width="1.1"/>
<line x1="364.50" y1="398.56" x2="364.50" y2="387.92" stroke="#222" stroke-width="1.0"/>
<line x1="363.50" y1="398.56" x2="365.50" y2="398.56" stroke="#222" stroke-width="1.1"/>
<line x1="363.50" y1="387.92" x2="365.50" y2="387.92" stroke="#222" stroke-width="1.1"/>
<line x1="364.50" y1="407.68" x2="364.50" y2="400.08" stroke="#222" stroke-width="1.0"/>
<line x1="363.50" y1="407.68" x2="365.50" y2="407.68" stroke="#222" stroke-width="1.1"/>
<line x1="363.50" y1="400.08" x2="365.50" y2="400.08" stroke="#222" stroke-width="1.1"/>
<line x1="364.50" y1="436.56" x2="364.50" y2="424.40" stroke="#222" stroke-width="1.0"/>
<line x1="363.50" y1="436.56" x2="365.50" y2="436.56" stroke="#222" stroke-width="1.1"/>
<line x1="363.50" y1="424.40" x2="365.50" y2="424.40" stroke="#222" stroke-width="1.1"/>
<line x1="387.50" y1="400.08" x2="387.50" y2="389.44" stroke="#222" stroke-width="1.0"/>
<line x1="386.50" y1="400.08" x2="388.50" y2="400.08" stroke="#222" stroke-width="1.1"/>
<line x1="386.50" y1="389.44" x2="388.50" y2="389.44" stroke="#222" stroke-width="1.1"/>
<line x1="387.50" y1="401.60" x2="387.50" y2="394.00" stroke="#222" stroke-width="1.0"/>
<line x1="386.50" y1="401.60" x2="388.50" y2="401.60" stroke="#222" stroke-width="1.1"/>
<line x1="386.50" y1="394.00" x2="388.50" y2="394.00" stroke="#222" stroke-width="1.1"/>
<line x1="387.50" y1="429.72" x2="387.50" y2="425.16" stroke="#222" stroke-width="1.0"/>
<line x1="386.50" y1="429.72" x2="388.50" y2="429.72" stroke="#222" stroke-width="1.1"/>
<line x1="386.50" y1="425.16" x2="388.50" y2="425.16" stroke="#222" stroke-width="1.1"/>
<line x1="410.50" y1="387.92" x2="410.50" y2="371.96" stroke="#222" stroke-width="1.0"/>
<line x1="409.50" y1="387.92" x2="411.50" y2="387.92" stroke="#222" stroke-width="1.1"/>
<line x1="409.50" y1="371.96" x2="411.50" y2="371.96" stroke="#222" stroke-width="1.1"/>
<line x1="410.50" y1="397.04" x2="410.50" y2="391.72" stroke="#222" stroke-width="1.0"/>
<line x1="409.50" y1="397.04" x2="411.50" y2="397.04" stroke="#222" stroke-width="1.1"/>
<line x1="409.50" y1="391.72" x2="411.50" y2="391.72" stroke="#222" stroke-width="1.1"/>
<line x1="410.50" y1="424.40" x2="410.50" y2="419.08" stroke="#222" stroke-width="1.0"/>
<line x1="409.50" y1="424.40" x2="411.50" y2="424.40" stroke="#222" stroke-width="1.1"/>
<line x1="409.50" y1="419.08" x2="411.50" y2="419.08" stroke="#222" stroke-width="1.1"/>
<line x1="36.60" y1="499.80" x2="36.60" y2="592.50" stroke="#a0a0a0" stroke-width="1.0"/>
<line x1="36.60" y1="592.50" x2="130.10" y2="592.50" stroke="#a0a0a0" stroke-width="1.0"/>
<line x1="33.60" y1="592.50" x2="36.60" y2="592.50" stroke="#a0a0a0" stroke-width="1"/>
<text x="32.00" y="595.47" font-size="8.3" text-anchor="end" font-weight="normal" font-style="normal" fill="#1a1a1a" letter-spacing="-0.25">0</text>
<line x1="33.60" y1="561.77" x2="36.60" y2="561.77" stroke="#a0a0a0" stroke-width="1"/>
<text x="32.00" y="564.74" font-size="8.3" text-anchor="end" font-weight="normal" font-style="normal" fill="#1a1a1a" letter-spacing="-0.25">40</text>
<line x1="33.60" y1="531.03" x2="36.60" y2="531.03" stroke="#a0a0a0" stroke-width="1"/>
<text x="32.00" y="534.00" font-size="8.3" text-anchor="end" font-weight="normal" font-style="normal" fill="#1a1a1a" letter-spacing="-0.25">80</text>
<line x1="33.60" y1="500.30" x2="36.60" y2="500.30" stroke="#a0a0a0" stroke-width="1"/>
<text x="32.00" y="503.27" font-size="8.3" text-anchor="end" font-weight="normal" font-style="normal" fill="#1a1a1a" letter-spacing="-0.25">120</text>
<line x1="36.60" y1="592.50" x2="36.60" y2="595.00" stroke="#a0a0a0" stroke-width="1"/>
<text x="36.60" y="604.24" font-size="8.2" text-anchor="middle" font-weight="normal" font-style="normal" fill="#1a1a1a" letter-spacing="-0.2">0</text>
<line x1="59.60" y1="592.50" x2="59.60" y2="595.00" stroke="#a0a0a0" stroke-width="1"/>
<text x="61.80" y="604.24" font-size="8.2" text-anchor="middle" font-weight="normal" font-style="normal" fill="#1a1a1a" letter-spacing="-0.2">0.001</text>
<line x1="82.60" y1="592.50" x2="82.60" y2="595.00" stroke="#a0a0a0" stroke-width="1"/>
<text x="85.40" y="604.24" font-size="8.2" text-anchor="middle" font-weight="normal" font-style="normal" fill="#1a1a1a" letter-spacing="-0.2">0.01</text>
<line x1="105.60" y1="592.50" x2="105.60" y2="595.00" stroke="#a0a0a0" stroke-width="1"/>
<text x="107.10" y="604.24" font-size="8.2" text-anchor="middle" font-weight="normal" font-style="normal" fill="#1a1a1a" letter-spacing="-0.2">0.1</text>
<line x1="128.60" y1="592.50" x2="128.60" y2="595.00" stroke="#a0a0a0" stroke-width="1"/>
<text x="128.90" y="604.24" font-size="8.2" text-anchor="middle" font-weight="normal" font-style="normal" fill="#1a1a1a" letter-spacing="-0.2">1</text>
<text x="84.40" y="617.81" font-size="8.7" text-anchor="middle" font-weight="normal" font-style="normal" fill="#1a1a1a">4-hydroxytamoxifen (μmol/L)</text>
<text x="81.20" y="495.78" font-size="8.6" text-anchor="middle" font-weight="normal" font-style="normal" fill="#1a1a1a">T47D</text>
<path d="M36.60,516.47 L37.75,516.47 L38.90,516.48 L40.05,516.48 L41.20,516.49 L42.35,516.50 L43.50,516.50 L44.65,516.51 L45.80,516.52 L46.95,516.54 L48.10,516.55 L49.25,516.56 L50.40,516.58 L51.55,516.60 L52.70,516.62 L53.85,516.65 L55.00,516.67 L56.15,516.70 L57.30,516.74 L58.45,516.78 L59.60,516.82 L60.75,516.87 L61.90,516.93 L63.05,516.99 L64.20,517.06 L65.35,517.14 L66.50,517.22 L67.65,517.32 L68.80,517.42 L69.95,517.54 L71.10,517.67 L72.25,517.81 L73.40,517.97 L74.55,518.14 L75.70,518.33 L76.85,518.53 L78.00,518.74 L79.15,518.98 L80.30,519.22 L81.45,519.49 L82.60,519.76 L83.75,520.05 L84.90,520.35 L86.05,520.66 L87.20,520.98 L88.35,521.30 L89.50,521.62 L90.65,521.94 L91.80,522.27 L92.95,522.58 L94.10,522.89 L95.25,523.19 L96.40,523.48 L97.55,523.76 L98.70,524.02 L99.85,524.27 L101.00,524.50 L102.15,524.71 L103.30,524.92 L104.45,525.10 L105.60,525.27 L106.75,525.43 L107.90,525.57 L109.05,525.70 L110.20,525.82 L111.35,525.92 L112.50,526.02 L113.65,526.11 L114.80,526.18 L115.95,526.25 L117.10,526.32 L118.25,526.37 L119.40,526.42 L120.55,526.46 L121.70,526.50 L122.85,526.54 L124.00,526.57 L125.15,526.60 L126.30,526.62 L127.45,526.64 L128.60,526.66" fill="none" stroke="#3060b0" stroke-width="1.4"/>
<path d="M36.60,525.65 L128.60,525.65" fill="none" stroke="#a8cc3c" stroke-width="1.4"/>
<path d="M36.60,544.08 L37.75,544.08 L38.90,544.07 L40.05,544.07 L41.20,544.07 L42.35,544.07 L43.50,544.07 L44.65,544.06 L45.80,544.06 L46.95,544.06 L48.10,544.06 L49.25,544.05 L50.40,544.05 L51.55,544.04 L52.70,544.04 L53.85,544.04 L55.00,544.03 L56.15,544.03 L57.30,544.02 L58.45,544.01 L59.60,544.01 L60.75,544.00 L61.90,543.99 L63.05,543.98 L64.20,543.97 L65.35,543.96 L66.50,543.95 L67.65,543.94 L68.80,543.92 L69.95,543.91 L71.10,543.89 L72.25,543.88 L73.40,543.86 L74.55,543.84 L75.70,543.82 L76.85,543.79 L78.00,543.77 L79.15,543.74 L80.30,543.71 L81.45,543.68 L82.60,543.65 L83.75,543.61 L84.90,543.57 L86.05,543.53 L87.20,543.48 L88.35,543.44 L89.50,543.38 L90.65,543.33 L91.80,543.27 L92.95,543.21 L94.10,543.14 L95.25,543.07 L96.40,543.00 L97.55,542.92 L98.70,542.83 L99.85,542.75 L101.00,542.65 L102.15,542.56 L103.30,542.45 L104.45,542.35 L105.60,542.24 L106.75,542.12 L107.90,542.00 L109.05,541.88 L110.20,541.75 L111.35,541.62 L112.50,541.48 L113.65,541.35 L114.80,541.21 L115.95,541.07 L117.10,540.92 L118.25,540.78 L119.40,540.64 L120.55,540.49 L121.70,540.35 L122.85,540.21 L124.00,540.07 L125.15,539.93 L126.30,539.79 L127.45,539.66 L128.60,539.53" fill="none" stroke="#c8282c" stroke-width="1.4"/>
<line x1="36.60" y1="520.28" x2="36.60" y2="512.59" stroke="#222" stroke-width="1.0"/>
<line x1="35.60" y1="520.28" x2="37.60" y2="520.28" stroke="#222" stroke-width="1.1"/>
<line x1="35.60" y1="512.59" x2="37.60" y2="512.59" stroke="#222" stroke-width="1.1"/>
<line x1="36.60" y1="531.03" x2="36.60" y2="523.35" stroke="#222" stroke-width="1.0"/>
<line x1="35.60" y1="531.03" x2="37.60" y2="531.03" stroke="#222" stroke-width="1.1"/>
<line x1="35.60" y1="523.35" x2="37.60" y2="523.35" stroke="#222" stroke-width="1.1"/>
<line x1="36.60" y1="547.17" x2="36.60" y2="539.49" stroke="#222" stroke-width="1.0"/>
<line x1="35.60" y1="547.17" x2="37.60" y2="547.17" stroke="#222" stroke-width="1.1"/>
<line x1="35.60" y1="539.49" x2="37.60" y2="539.49" stroke="#222" stroke-width="1.1"/>
<line x1="59.60" y1="519.51" x2="59.60" y2="515.67" stroke="#222" stroke-width="1.0"/>
<line x1="58.60" y1="519.51" x2="60.60" y2="519.51" stroke="#222" stroke-width="1.1"/>
<line x1="58.60" y1="515.67" x2="60.60" y2="515.67" stroke="#222" stroke-width="1.1"/>
<line x1="59.60" y1="527.96" x2="59.60" y2="523.35" stroke="#222" stroke-width="1.0"/>
<line x1="58.60" y1="527.96" x2="60.60" y2="527.96" stroke="#222" stroke-width="1.1"/>
<line x1="58.60" y1="523.35" x2="60.60" y2="523.35" stroke="#222" stroke-width="1.1"/>
<line x1="59.60" y1="547.94" x2="59.60" y2="540.25" stroke="#222" stroke-width="1.0"/>
<line x1="58.60" y1="547.94" x2="60.60" y2="547.94" stroke="#222" stroke-width="1.1"/>
<line x1="58.60" y1="540.25" x2="60.60" y2="540.25" stroke="#222" stroke-width="1.1"/>
<line x1="82.60" y1="527.96" x2="82.60" y2="518.74" stroke="#222" stroke-width="1.0"/>
<line x1="81.60" y1="527.96" x2="83.60" y2="527.96" stroke="#222" stroke-width="1.1"/>
<line x1="81.60" y1="518.74" x2="83.60" y2="518.74" stroke="#222" stroke-width="1.1"/>
<line x1="82.60" y1="549.47" x2="82.60" y2="540.25" stroke="#222" stroke-width="1.0"/>
<line x1="81.60" y1="549.47" x2="83.60" y2="549.47" stroke="#222" stroke-width="1.1"/>
<line x1="81.60" y1="540.25" x2="83.60" y2="540.25" stroke="#222" stroke-width="1.1"/>
<line x1="105.60" y1="528.73" x2="105.60" y2="520.28" stroke="#222" stroke-width="1.0"/>
<line x1="104.60" y1="528.73" x2="106.60" y2="528.73" stroke="#222" stroke-width="1.1"/>
<line x1="104.60" y1="520.28" x2="106.60" y2="520.28" stroke="#222" stroke-width="1.1"/>
<line x1="105.60" y1="546.40" x2="105.60" y2="537.18" stroke="#222" stroke-width="1.0"/>
<line x1="104.60" y1="546.40" x2="106.60" y2="546.40" stroke="#222" stroke-width="1.1"/>
<line x1="104.60" y1="537.18" x2="106.60" y2="537.18" stroke="#222" stroke-width="1.1"/>
<line x1="128.60" y1="534.11" x2="128.60" y2="523.35" stroke="#222" stroke-width="1.0"/>
<line x1="127.60" y1="534.11" x2="129.60" y2="534.11" stroke="#222" stroke-width="1.1"/>
<line x1="127.60" y1="523.35" x2="129.60" y2="523.35" stroke="#222" stroke-width="1.1"/>
<line x1="128.60" y1="544.86" x2="128.60" y2="524.89" stroke="#222" stroke-width="1.0"/>
<line x1="127.60" y1="544.86" x2="129.60" y2="544.86" stroke="#222" stroke-width="1.1"/>
<line x1="127.60" y1="524.89" x2="129.60" y2="524.89" stroke="#222" stroke-width="1.1"/>
<line x1="186.90" y1="499.80" x2="186.90" y2="592.50" stroke="#a0a0a0" stroke-width="1.0"/>
<line x1="186.90" y1="592.50" x2="280.40" y2="592.50" stroke="#a0a0a0" stroke-width="1.0"/>
<line x1="183.90" y1="592.50" x2="186.90" y2="592.50" stroke="#a0a0a0" stroke-width="1"/>
<text x="182.30" y="595.47" font-size="8.3" text-anchor="end" font-weight="normal" font-style="normal" fill="#1a1a1a" letter-spacing="-0.25">0</text>
<line x1="183.90" y1="561.77" x2="186.90" y2="561.77" stroke="#a0a0a0" stroke-width="1"/>
<text x="182.30" y="564.74" font-size="8.3" text-anchor="end" font-weight="normal" font-style="normal" fill="#1a1a1a" letter-spacing="-0.25">40</text>
<line x1="183.90" y1="531.03" x2="186.90" y2="531.03" stroke="#a0a0a0" stroke-width="1"/>
<text x="182.30" y="534.00" font-size="8.3" text-anchor="end" font-weight="normal" font-style="normal" fill="#1a1a1a" letter-spacing="-0.25">80</text>
<line x1="183.90" y1="500.30" x2="186.90" y2="500.30" stroke="#a0a0a0" stroke-width="1"/>
<text x="182.30" y="503.27" font-size="8.3" text-anchor="end" font-weight="normal" font-style="normal" fill="#1a1a1a" letter-spacing="-0.25">120</text>
<line x1="186.90" y1="592.50" x2="186.90" y2="595.00" stroke="#a0a0a0" stroke-width="1"/>
<text x="186.90" y="604.24" font-size="8.2" text-anchor="middle" font-weight="normal" font-style="normal" fill="#1a1a1a" letter-spacing="-0.2">0</text>
<line x1="209.90" y1="592.50" x2="209.90" y2="595.00" stroke="#a0a0a0" stroke-width="1"/>
<text x="212.10" y="604.24" font-size="8.2" text-anchor="middle" font-weight="normal" font-style="normal" fill="#1a1a1a" letter-spacing="-0.2">0.001</text>
<line x1="232.90" y1="592.50" x2="232.90" y2="595.00" stroke="#a0a0a0" stroke-width="1"/>
<text x="235.70" y="604.24" font-size="8.2" text-anchor="middle" font-weight="normal" font-style="normal" fill="#1a1a1a" letter-spacing="-0.2">0.01</text>
<line x1="255.90" y1="592.50" x2="255.90" y2="595.00" stroke="#a0a0a0" stroke-width="1"/>
<text x="257.40" y="604.24" font-size="8.2" text-anchor="middle" font-weight="normal" font-style="normal" fill="#1a1a1a" letter-spacing="-0.2">0.1</text>
<line x1="278.90" y1="592.50" x2="278.90" y2="595.00" stroke="#a0a0a0" stroke-width="1"/>
<text x="279.20" y="604.24" font-size="8.2" text-anchor="middle" font-weight="normal" font-style="normal" fill="#1a1a1a" letter-spacing="-0.2">1</text>
<text x="231.50" y="617.81" font-size="8.7" text-anchor="middle" font-weight="normal" font-style="normal" fill="#1a1a1a">4-hydroxytamoxifen (μmol/L)</text>
<text x="224.75" y="495.78" font-size="8.6" text-anchor="middle" font-weight="normal" font-style="italic" fill="#1a1a1a">MCF7</text>
<path d="M186.90,521.84 L188.05,521.85 L189.20,521.85 L190.35,521.86 L191.50,521.86 L192.65,521.87 L193.80,521.87 L194.95,521.88 L196.10,521.89 L197.25,521.90 L198.40,521.91 L199.55,521.92 L200.70,521.93 L201.85,521.95 L203.00,521.96 L204.15,521.98 L205.30,522.00 L206.45,522.02 L207.60,522.04 L208.75,522.07 L209.90,522.10 L211.05,522.13 L212.20,522.17 L213.35,522.21 L214.50,522.26 L215.65,522.31 L216.80,522.37 L217.95,522.43 L219.10,522.50 L220.25,522.58 L221.40,522.67 L222.55,522.76 L223.70,522.87 L224.85,522.99 L226.00,523.12 L227.15,523.27 L228.30,523.43 L229.45,523.61 L230.60,523.81 L231.75,524.03 L232.90,524.27 L234.05,524.53 L235.20,524.82 L236.35,525.13 L237.50,525.48 L238.65,525.85 L239.80,526.26 L240.95,526.70 L242.10,527.17 L243.25,527.68 L244.40,528.22 L245.55,528.81 L246.70,529.42 L247.85,530.08 L249.00,530.77 L250.15,531.49 L251.30,532.24 L252.45,533.02 L253.60,533.82 L254.75,534.64 L255.90,535.48 L257.05,536.33 L258.20,537.18 L259.35,538.03 L260.50,538.88 L261.65,539.72 L262.80,540.54 L263.95,541.34 L265.10,542.12 L266.25,542.87 L267.40,543.59 L268.55,544.28 L269.70,544.94 L270.85,545.55 L272.00,546.14 L273.15,546.68 L274.30,547.19 L275.45,547.66 L276.60,548.10 L277.75,548.51 L278.90,548.88" fill="none" stroke="#3060b0" stroke-width="1.4"/>
<path d="M186.90,532.22 L188.05,532.22 L189.20,532.23 L190.35,532.23 L191.50,532.24 L192.65,532.24 L193.80,532.25 L194.95,532.26 L196.10,532.27 L197.25,532.28 L198.40,532.29 L199.55,532.30 L200.70,532.31 L201.85,532.33 L203.00,532.34 L204.15,532.36 L205.30,532.38 L206.45,532.41 L207.60,532.43 L208.75,532.46 L209.90,532.49 L211.05,532.53 L212.20,532.57 L213.35,532.61 L214.50,532.66 L215.65,532.72 L216.80,532.78 L217.95,532.85 L219.10,532.92 L220.25,533.01 L221.40,533.10 L222.55,533.20 L223.70,533.32 L224.85,533.44 L226.00,533.58 L227.15,533.74 L228.30,533.91 L229.45,534.10 L230.60,534.30 L231.75,534.53 L232.90,534.78 L234.05,535.05 L235.20,535.35 L236.35,535.67 L237.50,536.02 L238.65,536.40 L239.80,536.81 L240.95,537.25 L242.10,537.72 L243.25,538.22 L244.40,538.75 L245.55,539.31 L246.70,539.91 L247.85,540.53 L249.00,541.18 L250.15,541.85 L251.30,542.54 L252.45,543.25 L253.60,543.97 L254.75,544.70 L255.90,545.44 L257.05,546.18 L258.20,546.91 L259.35,547.63 L260.50,548.34 L261.65,549.03 L262.80,549.70 L263.95,550.35 L265.10,550.97 L266.25,551.56 L267.40,552.13 L268.55,552.66 L269.70,553.16 L270.85,553.63 L272.00,554.07 L273.15,554.48 L274.30,554.86 L275.45,555.21 L276.60,555.53 L277.75,555.83 L278.90,556.10" fill="none" stroke="#a8cc3c" stroke-width="1.4"/>
<path d="M186.90,526.99 L188.05,527.25 L189.20,527.54 L190.35,527.86 L191.50,528.22 L192.65,528.62 L193.80,529.05 L194.95,529.53 L196.10,530.06 L197.25,530.64 L198.40,531.26 L199.55,531.94 L200.70,532.67 L201.85,533.45 L203.00,534.29 L204.15,535.17 L205.30,536.10 L206.45,537.08 L207.60,538.09 L208.75,539.13 L209.90,540.19 L211.05,541.28 L212.20,542.37 L213.35,543.46 L214.50,544.54 L215.65,545.61 L216.80,546.65 L217.95,547.66 L219.10,548.63 L220.25,549.56 L221.40,550.44 L222.55,551.28 L223.70,552.06 L224.85,552.79 L226.00,553.47 L227.15,554.09 L228.30,554.67 L229.45,555.20 L230.60,555.68 L231.75,556.12 L232.90,556.51 L234.05,556.87 L235.20,557.19 L236.35,557.48 L237.50,557.75 L238.65,557.98 L239.80,558.19 L240.95,558.37 L242.10,558.54 L243.25,558.69 L244.40,558.82 L245.55,558.94 L246.70,559.04 L247.85,559.14 L249.00,559.22 L250.15,559.29 L251.30,559.35 L252.45,559.41 L253.60,559.46 L254.75,559.51 L255.90,559.55 L257.05,559.58 L258.20,559.61 L259.35,559.64 L260.50,559.66 L261.65,559.68 L262.80,559.70 L263.95,559.72 L265.10,559.73 L266.25,559.75 L267.40,559.76 L268.55,559.77 L269.70,559.78 L270.85,559.79 L272.00,559.79 L273.15,559.80 L274.30,559.80 L275.45,559.81 L276.60,559.81 L277.75,559.82 L278.90,559.82" fill="none" stroke="#c8282c" stroke-width="1.4"/>
<line x1="186.90" y1="550.24" x2="186.90" y2="509.52" stroke="#222" stroke-width="1.0"/>
<line x1="185.90" y1="550.24" x2="187.90" y2="550.24" stroke="#222" stroke-width="1.1"/>
<line x1="185.90" y1="509.52" x2="187.90" y2="509.52" stroke="#222" stroke-width="1.1"/>
<line x1="209.90" y1="547.94" x2="209.90" y2="518.74" stroke="#222" stroke-width="1.0"/>
<line x1="208.90" y1="547.94" x2="210.90" y2="547.94" stroke="#222" stroke-width="1.1"/>
<line x1="208.90" y1="518.74" x2="210.90" y2="518.74" stroke="#222" stroke-width="1.1"/>
<line x1="232.90" y1="554.08" x2="232.90" y2="503.37" stroke="#222" stroke-width="1.0"/>
<line x1="231.90" y1="554.08" x2="233.90" y2="554.08" stroke="#222" stroke-width="1.1"/>
<line x1="231.90" y1="503.37" x2="233.90" y2="503.37" stroke="#222" stroke-width="1.1"/>
<line x1="232.90" y1="559.46" x2="232.90" y2="554.85" stroke="#222" stroke-width="1.0"/>
<line x1="231.90" y1="559.46" x2="233.90" y2="559.46" stroke="#222" stroke-width="1.1"/>
<line x1="231.90" y1="554.85" x2="233.90" y2="554.85" stroke="#222" stroke-width="1.1"/>
<line x1="255.90" y1="561.77" x2="255.90" y2="529.50" stroke="#222" stroke-width="1.0"/>
<line x1="254.90" y1="561.77" x2="256.90" y2="561.77" stroke="#222" stroke-width="1.1"/>
<line x1="254.90" y1="529.50" x2="256.90" y2="529.50" stroke="#222" stroke-width="1.1"/>
<line x1="278.90" y1="561.77" x2="278.90" y2="548.71" stroke="#222" stroke-width="1.0"/>
<line x1="277.90" y1="561.77" x2="279.90" y2="561.77" stroke="#222" stroke-width="1.1"/>
<line x1="277.90" y1="548.71" x2="279.90" y2="548.71" stroke="#222" stroke-width="1.1"/>
<rect x="64.80" y="242.40" width="26.70" height="5.80" fill="#f4f4f4" stroke="#777" stroke-width="0.6"/>
<rect x="64.80" y="248.90" width="26.70" height="6.60" fill="#f4f4f4" stroke="#777" stroke-width="0.6"/>
<line x1="67.50" y1="245.60" x2="70.80" y2="245.60" stroke="#222" stroke-width="1.2" stroke-linecap="round"/>
<line x1="74.00" y1="245.40" x2="81.50" y2="245.40" stroke="#bbb" stroke-width="1.0" stroke-linecap="round"/>
<line x1="67.50" y1="252.10" x2="72.30" y2="252.10" stroke="#222" stroke-width="1.5" stroke-linecap="round"/>
<line x1="75.20" y1="252.10" x2="80.80" y2="252.10" stroke="#222" stroke-width="1.5" stroke-linecap="round"/>
<line x1="82.90" y1="251.80" x2="89.00" y2="251.80" stroke="#222" stroke-width="1.9" stroke-linecap="round"/>
<text x="63.20" y="247.56" font-size="6.3" text-anchor="end" font-weight="normal" font-style="normal" fill="#111">NLK</text>
<text x="64.80" y="254.46" font-size="6.3" text-anchor="end" font-weight="normal" font-style="normal" fill="#111">GAPDH</text>
<path d="M92.40,245.30 l2.40,-1.50 v3.00 z" fill="#111"/>
<text x="95.40" y="247.33" font-size="5.67" text-anchor="start" font-weight="normal" font-style="normal" fill="#111">55 kDa</text>
<path d="M92.40,252.20 l2.40,-1.50 v3.00 z" fill="#111"/>
<text x="95.40" y="254.23" font-size="5.67" text-anchor="start" font-weight="normal" font-style="normal" fill="#111">37 kDa</text>
<text x="71.00" y="241.20" font-size="6.3" fill="#111" transform="rotate(-46 71.00 241.20)">siCtrl</text>
<text x="79.00" y="241.20" font-size="6.3" fill="#111" transform="rotate(-46 79.00 241.20)">siNLK No. 1</text>
<text x="87.00" y="241.20" font-size="6.3" fill="#111" transform="rotate(-46 87.00 241.20)">siNLK No. 2</text>
<rect x="212.40" y="242.20" width="20.60" height="6.10" fill="#f4f4f4" stroke="#777" stroke-width="0.6"/>
<rect x="212.40" y="249.20" width="20.60" height="5.70" fill="#f4f4f4" stroke="#777" stroke-width="0.6"/>
<line x1="214.00" y1="245.20" x2="231.50" y2="245.20" stroke="#ddd" stroke-width="1.0" stroke-linecap="round"/>
<line x1="214.40" y1="252.10" x2="231.80" y2="252.10" stroke="#111" stroke-width="2.8" stroke-linecap="round"/>
<text x="208.20" y="247.66" font-size="6.3" text-anchor="end" font-weight="normal" font-style="normal" fill="#111">NLK</text>
<text x="209.80" y="255.46" font-size="6.3" text-anchor="end" font-weight="normal" font-style="normal" fill="#111">GAPDH</text>
<path d="M236.60,245.40 l3.36,-2.10 v4.20 z" fill="#111"/>
<text x="240.56" y="247.43" font-size="5.67" text-anchor="start" font-weight="normal" font-style="normal" fill="#111">55 kDa</text>
<path d="M236.60,253.20 l3.36,-2.10 v4.20 z" fill="#111"/>
<text x="240.56" y="255.23" font-size="5.67" text-anchor="start" font-weight="normal" font-style="normal" fill="#111">37 kDa</text>
<text x="217.30" y="240.00" font-size="6.3" fill="#111" transform="rotate(-47 217.30 240.00)">siCtrl</text>
<text x="225.00" y="240.00" font-size="6.3" fill="#111" transform="rotate(-47 225.00 240.00)">siNLK No. 1</text>
<text x="233.10" y="240.40" font-size="6.3" fill="#111" transform="rotate(-47 233.10 240.40)">siNLK No. 2</text>
<rect x="346.50" y="240.30" width="22.00" height="5.40" fill="#fafafa" stroke="#777" stroke-width="0.6"/>
<rect x="346.50" y="246.50" width="22.00" height="5.70" fill="#f4f4f4" stroke="#777" stroke-width="0.6"/>
<line x1="348.50" y1="249.30" x2="367.00" y2="249.30" stroke="#111" stroke-width="1.0" stroke-linecap="round"/>
<text x="344.60" y="245.32" font-size="6.2" text-anchor="end" font-weight="normal" font-style="normal" fill="#111">NLK</text>
<text x="346.20" y="251.82" font-size="6.2" text-anchor="end" font-weight="normal" font-style="normal" fill="#111">GAPDH</text>
<path d="M369.60,243.10 l2.40,-1.50 v3.00 z" fill="#111"/>
<text x="372.60" y="245.10" font-size="5.58" text-anchor="start" font-weight="normal" font-style="normal" fill="#111">55 kDa</text>
<path d="M369.60,249.60 l2.40,-1.50 v3.00 z" fill="#111"/>
<text x="372.60" y="251.60" font-size="5.58" text-anchor="start" font-weight="normal" font-style="normal" fill="#111">37 kDa</text>
<text x="351.80" y="240.00" font-size="6.2" fill="#111" transform="rotate(-47 351.80 240.00)">siCtrl</text>
<text x="359.50" y="240.00" font-size="6.2" fill="#111" transform="rotate(-47 359.50 240.00)">siNLK No. 1</text>
<text x="367.20" y="240.50" font-size="6.2" fill="#111" transform="rotate(-47 367.20 240.50)">siNLK No. 2</text>
<circle cx="108.60" cy="306.00" r="1.3" fill="#111"/>
<circle cx="112.30" cy="306.00" r="1.3" fill="#111"/>
<circle cx="116.00" cy="306.00" r="1.3" fill="#111"/>
<circle cx="130.30" cy="272.70" r="1.3" fill="#111"/>
<circle cx="134.00" cy="272.70" r="1.3" fill="#111"/>
<circle cx="137.70" cy="272.70" r="1.3" fill="#111"/>
<circle cx="130.30" cy="302.90" r="1.3" fill="#111"/>
<circle cx="134.00" cy="302.90" r="1.3" fill="#111"/>
<circle cx="137.70" cy="302.90" r="1.3" fill="#111"/>
<path d="M138.30,392.90 H149.60 V437.30 H141.70" fill="none" stroke="#333" stroke-width="1"/>
<path d="M141.70,392.90 V405.60 H138.30" fill="none" stroke="#333" stroke-width="1"/>
<circle cx="144.60" cy="399.00" r="1.15" fill="#111"/>
<circle cx="152.50" cy="411.90" r="1.2" fill="#111"/>
<circle cx="152.50" cy="415.50" r="1.2" fill="#111"/>
<circle cx="152.50" cy="419.10" r="1.2" fill="#111"/>
<path d="M278.00,386.30 H289.90 V439.00 H278.60" fill="none" stroke="#333" stroke-width="1"/>
<path d="M281.00,386.30 V398.80 H278.00" fill="none" stroke="#333" stroke-width="1"/>
<circle cx="285.00" cy="391.35" r="1.15" fill="#111"/>
<circle cx="285.00" cy="394.65" r="1.15" fill="#111"/>
<circle cx="293.70" cy="410.90" r="1.2" fill="#111"/>
<circle cx="293.70" cy="414.50" r="1.2" fill="#111"/>
<circle cx="293.70" cy="418.10" r="1.2" fill="#111"/>
<path d="M418.00,380.70 H429.90 V427.30 H421.40" fill="none" stroke="#333" stroke-width="1"/>
<path d="M421.00,380.70 V392.80 H418.00" fill="none" stroke="#333" stroke-width="1"/>
<circle cx="425.50" cy="387.00" r="1.15" fill="#111"/>
<circle cx="431.90" cy="404.40" r="1.2" fill="#111"/>
<circle cx="431.90" cy="408.00" r="1.2" fill="#111"/>
<circle cx="431.90" cy="411.60" r="1.2" fill="#111"/>
<path d="M140.2,523.7 H147.7 V541.8 H140.2" fill="none" stroke="#333" stroke-width="1"/>
<circle cx="151.70" cy="529.00" r="1.2" fill="#111"/>
<circle cx="151.70" cy="532.60" r="1.2" fill="#111"/>
<circle cx="151.70" cy="536.20" r="1.2" fill="#111"/>
<rect x="318" y="536.5" width="64.3" height="39" fill="none" stroke="#333" stroke-width="0.9" stroke-dasharray="2,1.6"/>
<line x1="321.80" y1="546.80" x2="342.00" y2="546.80" stroke="#3060b0" stroke-width="1.6"/>
<text x="344.60" y="549.20" font-size="6.7" text-anchor="start" font-weight="normal" font-style="normal" fill="#1a1a1a">siCtrl</text>
<line x1="321.80" y1="555.80" x2="342.00" y2="555.80" stroke="#a8cc3c" stroke-width="1.6"/>
<text x="344.60" y="558.20" font-size="6.7" text-anchor="start" font-weight="normal" font-style="normal" fill="#1a1a1a">siNLK No. 1</text>
<line x1="321.80" y1="564.50" x2="342.00" y2="564.50" stroke="#c8282c" stroke-width="1.6"/>
<text x="344.60" y="566.90" font-size="6.7" text-anchor="start" font-weight="normal" font-style="normal" fill="#1a1a1a">siNLK No. 2</text>
</svg></body></html>
